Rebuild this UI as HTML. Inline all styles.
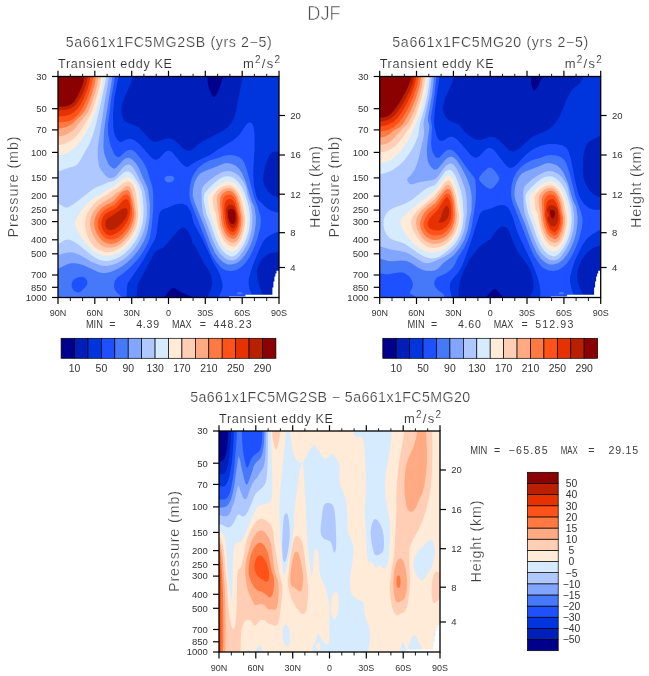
<!DOCTYPE html>
<html><head><meta charset="utf-8"><title>DJF</title>
<style>
html,body{margin:0;padding:0;background:#fff;}
svg{display:block;font-family:"Liberation Sans",sans-serif;}
text{stroke:#fff;stroke-width:0.22px;paint-order:fill stroke;}
text.s{stroke:none;}
</style></head><body>
<svg width="649" height="676" viewBox="0 0 649 676">
<defs><filter id="idf" x="0" y="0" width="649" height="676" filterUnits="userSpaceOnUse"><feOffset dx="0" dy="0"/></filter></defs>
<rect width="649" height="676" fill="#fff"/>
<rect x="58.0" y="76.5" width="221" height="221" fill="#00008b"/>
<path d="M279.0,297.5L193.5,297.5L182.0,292.8L175.5,288.5L173.5,287.9L172.0,288.3L169.5,290.3L164.3,297.5L58.0,297.5L58.0,76.5L207.1,76.5L207.8,83.0L209.0,88.0L211.7,94.5L213.0,96.3L214.0,97.0L215.0,96.7L216.0,95.6L219.5,88.0L221.6,82.0L222.8,76.5L279.0,76.5L279.0,297.5Z" fill="#001eb9" fill-rule="evenodd"/>
<path d="M263.0,297.5L207.5,297.5L212.2,285.0L212.2,280.5L211.0,275.2L208.6,270.0L203.4,262.5L199.9,255.0L194.6,245.5L192.6,243.5L191.2,238.0L188.7,232.5L186.0,228.9L183.5,227.3L181.0,228.1L177.5,231.0L167.3,243.5L163.8,247.0L156.5,251.0L154.0,253.7L138.2,283.5L136.9,289.5L136.6,297.5L58.0,297.5L58.0,76.5L132.9,76.5L131.1,83.0L124.4,97.5L121.9,105.5L121.5,111.5L122.3,116.0L123.9,120.0L125.5,121.7L127.0,122.5L134.0,124.9L138.2,127.0L140.5,129.0L149.5,138.7L153.0,141.3L155.0,141.9L156.5,141.8L166.0,138.4L170.5,138.4L172.5,139.2L175.0,140.8L184.0,149.0L186.5,150.5L188.5,150.9L190.5,150.5L193.0,149.0L198.6,144.0L202.5,141.4L223.5,130.6L227.5,127.5L230.5,124.1L233.5,119.0L235.6,113.0L242.7,76.5L279.0,76.5L279.0,151.9L275.0,151.4L273.0,151.9L271.0,153.3L269.5,155.4L267.0,161.0L264.9,167.5L263.4,175.0L263.2,179.0L263.3,181.5L264.4,185.5L267.8,191.0L270.5,193.7L272.5,195.1L275.5,196.5L279.0,197.3L279.0,251.9L271.5,252.9L268.5,254.1L265.5,255.9L263.0,257.9L261.0,260.4L258.0,266.5L256.9,271.5L257.3,277.5L259.0,284.5L263.1,296.5L263.0,297.5Z" fill="#0034dc" fill-rule="evenodd"/>
<path d="M252.5,297.5L218.5,297.5L221.7,290.5L222.7,286.5L222.2,282.0L220.2,275.5L217.7,270.0L213.3,262.5L201.5,237.5L193.9,223.5L192.9,220.5L191.7,214.5L190.0,210.3L188.0,207.3L186.0,205.3L183.5,203.9L181.0,203.5L176.0,204.3L167.0,208.0L163.0,209.3L161.5,210.2L160.0,212.0L158.8,216.0L156.6,233.5L155.1,239.0L141.5,263.1L128.1,282.5L127.3,285.0L126.9,288.5L126.6,297.5L58.0,297.5L58.0,76.5L118.5,76.5L114.5,97.4L113.0,114.0L113.3,127.5L114.0,132.0L115.2,136.0L117.5,139.7L119.0,141.2L120.5,142.0L122.0,141.8L126.0,139.6L129.0,138.8L132.0,139.2L135.0,140.6L140.5,145.2L150.5,156.8L152.5,158.5L154.5,159.6L156.5,159.7L158.0,159.1L160.0,157.5L165.2,152.0L167.5,150.8L169.5,150.8L171.5,151.8L173.5,153.5L179.8,161.5L183.0,164.8L186.0,166.8L188.0,167.0L191.2,164.5L196.1,161.5L210.0,155.0L218.5,149.2L233.6,140.0L239.3,135.0L246.0,125.1L247.5,123.4L248.5,122.7L250.0,122.4L251.0,122.7L252.0,123.5L253.5,126.5L254.5,133.5L254.6,148.5L253.4,167.0L253.3,176.0L254.0,185.5L256.0,194.7L257.2,198.0L258.4,200.0L260.8,202.0L266.5,208.1L272.0,211.1L276.0,212.2L279.0,212.4L279.0,231.8L274.5,233.0L270.5,234.9L266.5,237.7L263.8,240.5L261.5,244.8L254.1,262.0L250.8,271.0L248.8,279.0L248.6,284.0L249.5,288.7L252.5,297.5Z" fill="#1e50ff" fill-rule="evenodd"/>
<path d="M121.5,297.5L58.0,297.5L58.0,76.5L115.0,76.5L111.3,98.0L108.0,125.0L108.0,131.0L108.4,136.0L109.5,141.5L110.9,146.5L114.0,153.5L115.9,156.0L117.5,157.0L118.5,157.0L120.0,156.5L126.0,151.2L128.5,149.9L132.0,150.0L135.3,152.0L142.0,160.3L145.2,165.5L147.3,170.5L151.8,185.0L152.7,189.0L153.2,195.0L153.2,210.0L151.8,226.0L149.9,238.0L148.3,242.0L145.0,248.5L141.5,254.0L136.5,260.7L130.0,267.6L124.0,272.7L117.5,277.3L114.9,280.5L113.9,285.5L114.5,289.0L116.3,292.0L121.0,296.2L121.9,297.5L121.5,297.5ZM232.0,271.0L229.5,271.1L226.5,270.4L224.0,269.4L221.5,267.9L217.0,263.0L212.0,255.4L209.5,249.8L191.3,203.5L189.9,199.0L189.3,194.0L189.9,186.0L191.7,178.5L194.7,172.5L198.7,167.5L203.9,163.5L209.6,160.5L219.0,157.8L224.0,155.8L229.5,154.9L234.5,155.4L239.0,156.9L242.2,159.5L244.5,163.1L247.5,171.9L253.9,197.0L257.4,206.0L259.1,211.5L260.6,217.5L260.9,221.0L260.2,228.0L257.0,240.0L253.5,249.0L249.5,257.0L245.8,262.5L241.0,267.3L236.5,269.9L232.0,271.0ZM169.0,182.5L166.7,182.0L165.4,181.0L164.5,179.0L164.9,177.5L166.1,176.5L168.0,175.8L171.0,175.9L173.0,176.6L173.9,177.5L174.3,178.5L173.9,180.0L172.0,181.7L169.0,182.5ZM80.1,292.0L85.6,287.0L86.9,285.0L87.4,283.0L87.1,280.5L86.2,279.0L84.5,277.5L82.5,276.8L79.0,277.0L75.0,278.5L72.5,281.0L71.6,284.0L71.8,287.5L73.5,290.3L75.0,291.4L77.0,292.2L78.5,292.4L80.1,292.0ZM240.5,294.5L237.5,294.2L236.9,293.5L237.0,293.0L239.0,292.0L241.0,292.0L242.1,292.5L242.5,293.6L242.0,294.1L240.5,294.5Z" fill="#4678fa" fill-rule="evenodd"/>
<path d="M105.5,273.0L102.0,273.1L98.0,272.1L83.0,265.1L76.0,263.3L71.5,263.2L68.5,263.8L58.0,268.7L58.0,76.5L112.4,76.5L105.0,123.5L103.9,133.0L103.4,146.5L103.9,151.5L104.9,155.5L108.5,164.2L110.5,166.6L113.5,168.7L115.0,168.6L116.5,167.6L123.0,160.3L125.5,158.4L127.0,157.9L129.0,158.0L130.5,158.5L132.5,159.7L135.7,163.0L138.6,167.5L143.5,179.0L146.5,185.0L148.2,190.0L149.9,204.0L149.7,217.0L147.7,230.0L146.0,236.1L143.9,241.0L139.9,248.0L136.5,252.7L132.0,257.9L126.5,263.0L121.0,267.0L116.0,269.7L110.5,272.0L105.5,273.0ZM232.0,264.6L227.5,264.5L223.5,262.6L219.0,258.6L214.8,252.5L210.2,242.5L203.5,224.4L194.0,200.9L192.7,195.0L193.0,189.0L194.4,182.5L197.0,177.4L200.0,173.6L205.0,170.9L218.0,166.1L223.0,163.8L226.0,163.1L230.5,163.5L235.5,165.6L239.0,168.7L242.0,173.1L246.2,183.0L251.0,199.5L254.4,207.0L255.9,216.5L255.7,224.0L254.3,233.5L252.1,241.0L249.2,248.0L245.1,255.0L240.9,260.0L237.0,262.9L232.0,264.6Z" fill="#82a5ff" fill-rule="evenodd"/>
<path d="M107.0,266.0L102.0,265.7L95.5,263.6L91.0,261.4L80.0,255.0L74.0,252.8L71.0,252.3L68.0,252.5L64.0,253.3L58.0,255.2L58.0,76.5L109.2,76.5L104.5,103.0L97.9,146.5L97.6,156.5L99.0,166.0L101.4,170.5L105.9,176.0L108.5,177.9L111.0,178.3L113.5,177.6L116.0,175.9L122.5,168.0L125.0,165.7L128.0,164.6L130.5,165.1L132.7,167.0L135.3,171.0L142.7,185.5L144.7,191.0L146.7,204.0L146.8,215.5L146.1,221.5L144.7,228.0L142.9,233.5L140.7,238.5L137.6,244.0L134.0,249.2L130.0,253.8L125.5,257.9L121.0,261.1L117.0,263.3L112.0,265.1L107.0,266.0ZM232.5,260.5L228.0,259.9L224.0,257.6L219.6,253.0L216.0,247.3L212.2,238.5L203.1,214.0L202.4,210.0L201.7,202.5L201.5,192.0L202.1,188.5L203.2,186.0L208.4,181.0L216.0,175.4L222.5,172.1L227.0,171.1L231.5,171.5L236.0,173.5L240.0,177.1L244.0,182.6L246.0,187.1L247.6,195.0L250.9,205.0L252.4,215.0L252.4,222.0L251.7,229.0L250.1,236.0L247.7,243.0L243.9,250.0L239.0,257.0L236.0,259.6L232.5,260.5Z" fill="#afc8ff" fill-rule="evenodd"/>
<path d="M59.5,171.1L58.0,171.5L58.0,76.5L106.4,76.5L100.1,107.0L96.1,124.0L92.6,136.0L89.0,144.7L80.1,160.5L77.0,164.7L74.5,166.2L69.5,167.5L59.5,171.1ZM110.5,260.6L107.5,260.9L103.5,260.7L100.0,259.9L96.5,258.5L91.9,255.5L76.0,242.8L70.5,239.9L67.5,239.6L64.5,240.2L58.0,244.2L58.0,203.3L64.5,207.3L66.5,207.6L69.0,207.0L75.5,202.7L92.5,189.4L95.9,187.5L103.5,184.5L107.5,182.5L113.5,180.9L117.0,178.6L123.5,172.7L126.0,171.6L128.5,171.6L131.0,172.7L133.5,175.8L138.8,184.0L141.5,191.0L142.8,198.5L143.6,209.0L143.5,215.5L142.6,223.0L140.8,229.5L138.0,236.4L135.0,241.8L131.0,247.0L126.0,252.2L120.5,256.5L115.5,259.1L110.5,260.6ZM234.0,256.1L232.5,256.5L230.5,256.3L226.5,254.4L222.3,250.5L218.6,245.0L215.2,237.5L210.4,223.5L206.4,213.5L203.9,201.0L203.7,197.5L204.1,194.5L205.5,192.3L209.0,188.1L214.0,183.2L218.5,179.6L223.0,177.1L226.5,176.3L230.5,176.6L234.5,178.4L238.3,182.0L241.9,187.0L244.0,191.2L246.0,196.9L248.7,206.5L249.8,213.5L250.0,219.5L249.5,226.0L248.4,232.5L246.5,238.5L244.3,243.5L241.5,248.5L237.0,253.9L234.0,256.1Z" fill="#d7ebff" fill-rule="evenodd"/>
<path d="M61.0,155.0L58.0,155.3L58.0,76.5L103.8,76.5L102.4,86.5L97.5,105.0L94.1,115.5L87.5,130.1L81.0,140.5L75.0,147.3L71.5,150.1L68.0,152.4L65.0,153.8L61.0,155.0ZM111.0,255.6L105.5,255.9L101.0,254.9L96.0,252.3L91.0,248.4L84.9,242.0L80.2,235.5L75.4,226.5L74.8,224.0L75.0,222.5L76.7,218.0L80.4,212.0L85.9,205.0L90.1,201.0L94.0,198.2L101.6,194.0L107.6,189.5L114.4,186.5L123.5,178.4L126.0,177.4L128.5,177.4L131.5,179.0L134.3,182.0L136.5,186.0L138.2,191.0L139.2,197.0L140.7,212.5L140.5,217.5L139.6,223.0L137.9,229.0L135.5,234.5L132.5,239.5L128.0,245.1L124.5,248.6L120.0,251.8L115.5,254.1L111.0,255.6ZM232.0,251.5L229.0,250.9L225.5,248.5L222.5,245.0L220.0,240.5L217.7,235.0L213.3,221.5L210.0,212.7L208.5,205.5L207.8,200.0L207.9,197.0L208.7,195.0L215.5,187.9L218.5,185.4L222.0,183.3L225.5,181.8L228.0,181.5L231.5,182.0L234.5,183.6L237.5,186.5L240.0,190.2L242.6,195.5L245.6,204.5L246.9,210.5L247.5,216.0L247.5,222.0L246.9,228.0L245.6,233.5L243.7,239.0L241.0,244.1L238.0,248.4L235.0,250.7L232.0,251.5ZM58.0,228.8L58.0,218.1L59.4,220.0L59.9,223.5L59.4,227.0L58.0,228.8Z" fill="#ffebd7" fill-rule="evenodd"/>
<path d="M62.0,144.5L58.0,144.9L58.0,76.5L101.1,76.5L100.2,84.0L97.7,94.0L92.1,111.0L90.0,115.6L81.1,130.0L76.4,136.0L73.1,139.0L69.5,141.6L65.5,143.6L62.0,144.5ZM109.5,252.0L104.0,251.7L99.1,250.0L94.6,247.0L91.0,243.0L87.7,236.5L85.5,229.5L84.8,223.5L85.6,217.5L87.2,213.5L90.2,208.5L93.9,204.0L97.7,200.5L102.7,197.0L109.5,193.1L112.5,190.5L116.9,188.0L123.5,182.9L126.5,181.7L129.5,181.8L131.5,183.0L133.5,186.0L135.0,190.2L136.1,195.5L138.3,214.0L137.7,220.0L136.5,225.9L135.0,230.0L132.5,234.7L128.7,240.0L125.0,244.2L121.5,247.1L117.5,249.6L113.5,251.2L109.5,252.0ZM234.5,246.5L233.0,246.8L231.5,246.5L227.5,244.5L224.9,242.0L222.1,237.5L218.7,228.5L217.2,222.0L216.0,213.5L213.9,209.5L213.0,204.0L212.9,197.5L213.8,195.0L215.1,193.0L217.7,190.0L220.8,187.5L224.0,185.9L227.0,185.2L230.0,185.3L233.0,186.5L236.0,189.0L238.1,192.0L240.4,197.0L242.2,202.5L245.0,217.0L245.2,221.0L244.7,226.5L242.5,236.0L241.0,239.5L239.0,242.8L237.0,245.0L234.5,246.5Z" fill="#ffceb4" fill-rule="evenodd"/>
<path d="M62.0,136.0L58.0,136.4L58.0,76.5L98.4,76.5L97.4,84.0L95.2,92.5L91.5,103.6L87.9,112.5L74.0,129.5L68.5,133.6L65.5,135.1L62.0,136.0ZM112.5,247.5L108.0,247.8L103.5,246.7L99.9,244.5L96.2,240.5L92.7,234.5L90.5,228.5L89.9,224.0L90.6,218.5L91.8,215.0L94.0,211.0L96.2,208.0L99.0,205.2L103.5,201.9L112.0,197.1L116.5,192.7L120.5,191.0L125.5,186.6L127.0,185.9L128.0,185.9L129.7,187.0L131.1,189.5L132.7,194.0L134.1,199.5L136.1,213.0L135.9,217.5L134.9,223.0L133.4,227.5L131.7,231.0L129.2,235.0L126.0,239.0L122.5,242.4L119.0,244.9L116.0,246.5L112.5,247.5ZM235.0,242.5L233.5,242.9L232.0,242.8L228.7,241.5L226.0,239.0L223.5,235.1L221.6,230.5L220.2,225.5L219.3,220.0L218.7,213.0L217.5,208.0L216.8,199.5L217.1,197.0L217.8,195.0L219.5,192.5L221.7,190.5L224.5,188.8L227.0,188.0L230.0,188.1L232.5,189.1L234.7,191.0L236.9,194.0L238.7,198.0L240.1,202.5L242.9,216.5L243.2,220.0L242.9,224.5L241.2,233.0L238.5,239.1L237.0,241.0L235.0,242.5Z" fill="#ffaa82" fill-rule="evenodd"/>
<path d="M60.5,128.5L58.0,128.7L58.0,76.5L95.8,76.5L94.8,83.5L92.5,91.9L89.0,101.8L84.7,111.0L81.4,115.0L72.0,123.9L66.5,127.0L60.5,128.5ZM114.0,243.6L110.0,243.9L106.5,243.1L103.0,241.2L99.8,238.0L96.8,233.5L94.8,228.5L94.2,224.0L94.7,219.0L95.8,216.0L97.5,212.7L101.4,208.0L105.5,205.2L111.0,202.7L113.5,201.0L116.0,198.6L119.7,194.0L122.5,191.6L125.5,190.2L127.5,189.9L129.0,191.0L130.0,192.8L132.6,202.0L134.3,213.0L134.0,217.0L133.2,221.0L130.3,228.5L125.0,236.0L122.5,238.6L119.5,241.0L116.5,242.8L114.0,243.6ZM233.5,239.1L231.5,238.7L229.0,237.2L227.0,235.4L225.1,233.0L222.7,227.0L221.2,219.5L220.0,203.5L220.2,198.0L221.2,195.5L223.0,193.2L225.5,191.6L228.0,190.8L230.5,191.0L232.5,192.0L234.5,193.9L236.4,197.0L238.6,203.5L241.4,217.5L241.1,224.5L239.5,231.5L236.9,236.5L235.0,238.4L233.5,239.1Z" fill="#ff7a42" fill-rule="evenodd"/>
<path d="M64.5,122.0L58.0,122.2L58.0,76.5L93.1,76.5L92.1,83.5L89.5,92.1L85.5,102.0L81.4,110.0L77.7,115.0L73.5,118.8L69.5,121.0L64.5,122.0ZM112.5,239.6L109.0,239.6L106.0,238.5L103.0,236.2L100.6,233.0L98.7,229.5L97.8,226.0L97.9,222.5L98.7,218.5L100.9,214.0L104.0,210.5L107.0,208.5L114.5,204.8L123.5,195.3L125.5,194.4L127.5,194.4L129.0,195.7L130.0,198.3L132.0,209.0L132.0,215.5L130.6,222.0L128.0,227.5L123.0,233.7L118.0,237.6L115.5,238.8L112.5,239.6ZM233.0,235.6L231.5,235.3L229.5,234.0L226.5,230.6L224.4,225.5L223.1,219.0L222.3,206.0L222.7,200.0L223.5,197.8L224.9,196.0L226.5,194.9L228.5,194.4L230.5,194.6L232.5,195.8L234.0,197.5L235.5,200.1L237.0,204.5L239.8,218.0L239.6,223.5L238.0,229.7L235.9,233.5L234.5,234.9L233.0,235.6Z" fill="#ff5218" fill-rule="evenodd"/>
<path d="M64.5,116.0L58.0,116.4L58.0,76.5L90.3,76.5L89.6,82.0L87.4,89.5L83.9,98.0L80.0,105.4L77.0,109.3L73.5,112.5L69.5,114.7L64.5,116.0ZM233.0,232.1L230.5,231.2L228.0,228.4L226.0,223.5L225.0,218.0L224.3,209.5L224.7,204.0L225.3,202.0L226.5,200.3L228.0,199.2L229.5,198.9L231.0,199.1L232.5,200.0L234.5,203.0L236.9,210.5L238.5,218.5L238.2,223.0L237.0,227.5L235.0,230.8L233.0,232.1ZM112.5,235.1L110.0,235.4L107.5,234.8L105.5,233.5L103.5,231.0L102.1,228.0L101.4,225.0L101.5,221.5L102.5,218.0L104.0,215.5L106.5,213.0L115.0,208.7L117.6,206.5L123.0,200.5L125.0,199.2L127.0,199.1L128.5,200.4L129.3,202.0L130.4,207.5L130.0,213.5L128.3,219.5L125.5,224.6L121.5,229.4L117.0,233.1L112.5,235.1Z" fill="#e63200" fill-rule="evenodd"/>
<path d="M65.5,110.0L58.0,110.3L58.0,76.5L87.3,76.5L87.6,77.5L87.3,80.0L85.5,86.2L82.4,94.0L78.9,100.5L76.0,104.4L73.0,107.1L69.5,108.9L65.5,110.0ZM234.0,228.1L233.0,228.4L231.8,228.0L229.6,226.0L227.8,222.5L226.9,218.5L226.1,209.0L227.5,205.9L228.5,205.0L230.0,204.5L232.5,205.0L234.5,207.1L236.0,211.0L236.8,215.0L237.3,219.0L236.9,222.5L235.5,226.5L234.0,228.1ZM112.0,230.0L110.0,230.2L108.5,229.8L107.0,228.7L106.0,227.4L105.4,225.5L105.3,223.5L105.7,221.0L106.5,219.5L108.5,217.7L114.0,214.6L121.0,209.4L124.5,208.1L126.5,208.4L127.5,210.0L127.6,213.0L126.8,216.0L125.0,219.3L122.5,222.6L118.5,226.5L115.0,228.9L112.0,230.0Z" fill="#b92000" fill-rule="evenodd"/>
<path d="M65.0,106.5L58.0,106.7L58.0,76.5L83.8,76.5L84.1,77.5L83.7,80.5L82.3,85.5L79.4,92.5L75.9,99.0L73.7,102.0L71.5,104.1L68.5,105.7L65.0,106.5ZM233.0,224.1L231.5,223.8L230.0,222.3L229.0,219.9L228.2,216.5L228.0,211.0L229.0,209.4L230.5,208.8L232.0,208.9L233.5,209.6L234.9,211.5L235.5,213.7L235.7,217.5L235.4,221.0L234.5,223.2L233.0,224.1Z" fill="#8b0000" fill-rule="evenodd"/>
<polygon points="229.0,298.2 229.0,296.5 245.4,296.5 245.4,294.7 272.4,294.7 272.4,287.5 273.4,287.5 273.4,281.5 274.4,281.5 274.4,276.5 275.4,276.5 275.4,273.5 276.5,273.5 276.5,270.8 279.7,270.8 279.7,298.2" fill="#fff"/>
<rect x="379.7" y="76.5" width="221" height="221" fill="#00008b"/>
<path d="M600.7,297.5L503.6,297.5L497.2,290.6L495.7,289.5L494.7,289.2L493.2,289.6L491.7,290.8L487.9,295.0L486.4,297.5L379.7,297.5L379.7,76.5L531.0,76.5L531.1,82.0L531.6,85.5L532.9,89.0L534.2,90.4L535.2,90.0L537.2,87.4L541.4,79.0L542.1,76.5L600.7,76.5L600.7,297.5Z" fill="#001eb9" fill-rule="evenodd"/>
<path d="M584.2,297.5L529.3,297.5L532.3,292.0L533.5,287.0L533.0,279.5L531.2,272.8L529.2,268.3L526.7,264.0L519.1,253.5L516.6,249.5L513.8,243.5L508.5,230.0L506.2,227.4L503.2,226.4L501.2,226.8L499.1,228.0L495.4,232.0L490.7,239.0L481.7,244.9L478.7,247.5L474.2,252.9L469.7,259.5L464.1,270.0L460.1,280.5L458.6,288.5L459.0,297.5L379.7,297.5L379.7,76.5L453.9,76.5L451.8,83.5L445.4,98.0L443.3,105.0L442.8,109.0L443.3,112.0L445.7,116.8L448.6,120.0L450.1,121.0L455.7,123.0L459.7,125.3L461.2,126.9L463.2,130.1L465.2,132.2L470.6,136.5L474.2,138.8L477.2,139.9L479.7,140.1L482.2,139.5L489.7,136.8L494.2,137.1L498.7,139.7L509.2,150.2L511.2,151.3L512.7,151.6L515.7,150.6L519.7,148.0L531.2,137.4L533.7,135.9L542.2,132.5L547.7,129.8L550.4,128.0L554.9,123.5L557.7,120.0L560.8,114.0L566.1,100.5L569.6,93.5L572.7,89.2L575.0,87.0L578.7,84.4L580.3,82.5L582.2,79.0L583.1,76.5L600.7,76.5L600.7,135.8L595.7,137.9L590.2,141.0L588.3,142.5L586.4,145.0L584.7,149.5L583.5,154.5L583.0,158.5L582.7,168.0L583.0,174.5L583.6,177.5L585.1,182.5L587.1,186.5L590.2,191.2L593.2,194.0L596.3,196.0L600.7,197.2L600.7,245.3L593.7,247.7L590.1,250.0L587.7,252.2L584.7,255.5L581.7,259.9L578.7,267.0L577.1,274.0L577.1,277.5L577.5,280.5L579.2,286.6L581.2,291.0L584.0,295.5L584.6,297.5L584.2,297.5Z" fill="#0034dc" fill-rule="evenodd"/>
<path d="M574.2,297.5L540.2,297.5L540.4,291.5L539.4,284.0L537.3,276.5L533.8,267.0L519.1,236.0L516.6,229.5L512.2,215.8L509.7,210.2L508.2,207.9L506.2,206.2L504.2,205.3L501.7,204.9L498.2,205.4L489.2,209.0L483.7,210.2L481.7,211.6L479.7,214.3L470.4,243.5L462.2,265.5L459.2,271.2L451.5,280.5L450.2,283.0L449.7,287.5L450.6,292.5L452.0,297.5L379.7,297.5L379.7,76.5L439.6,76.5L435.2,107.3L434.1,120.0L434.3,125.5L436.1,134.0L437.1,137.0L438.7,139.7L439.7,140.5L441.2,140.8L443.7,140.4L447.7,137.8L450.2,136.8L452.2,136.8L454.2,137.6L456.7,139.3L460.4,143.0L470.7,155.0L474.2,157.5L476.2,157.7L477.7,157.3L480.2,155.2L486.1,149.0L488.2,148.0L490.7,148.0L492.7,148.9L494.7,150.8L503.2,162.1L506.7,166.0L508.7,167.6L510.7,168.1L513.2,167.3L516.2,165.0L525.2,155.3L529.7,151.4L534.2,148.7L540.7,145.7L548.2,143.9L556.2,143.9L562.2,145.2L565.2,146.9L566.7,148.3L568.9,152.0L570.6,157.5L575.0,180.0L578.2,193.3L580.2,198.3L584.2,203.9L587.2,206.8L589.2,208.2L593.7,209.8L600.7,209.7L600.7,229.8L597.7,230.9L592.1,234.5L588.7,237.1L585.2,240.9L582.2,245.4L579.7,250.3L574.8,261.0L572.5,267.5L570.1,277.0L570.0,281.5L571.1,287.5L574.2,297.5Z" fill="#1e50ff" fill-rule="evenodd"/>
<path d="M444.7,297.5L416.5,297.5L415.4,296.5L410.7,293.9L409.9,293.0L410.0,292.0L412.4,287.5L413.0,284.0L412.3,281.5L410.8,278.5L409.2,276.5L406.7,274.4L404.2,273.0L401.2,272.3L398.2,272.4L388.7,274.3L385.7,274.2L379.7,273.3L379.7,76.5L436.4,76.5L434.5,94.5L430.8,118.0L432.0,127.5L431.1,143.5L431.7,148.5L432.7,152.2L435.2,156.8L436.2,157.6L437.7,158.1L439.7,157.2L444.5,152.0L447.2,150.1L450.2,149.5L453.2,150.8L455.7,152.9L459.2,156.9L468.2,170.0L473.9,177.0L475.4,180.0L476.0,191.5L475.5,202.5L472.0,225.5L470.1,233.5L467.4,241.0L464.2,247.7L457.6,258.0L454.8,264.5L452.3,268.0L449.3,271.0L445.8,273.5L437.6,277.0L435.6,279.0L434.4,281.5L434.1,284.0L435.2,287.0L437.9,290.0L443.2,293.7L444.3,295.5L444.7,297.5ZM553.7,271.0L548.7,270.6L543.7,268.3L541.6,266.5L538.7,263.1L533.7,255.5L531.0,249.5L512.9,203.5L511.6,199.0L511.0,194.0L511.5,186.0L513.3,178.5L516.4,172.5L520.7,167.2L525.7,163.4L531.7,160.3L540.7,157.8L545.7,155.8L551.2,154.9L556.2,155.4L560.7,156.9L563.9,159.5L566.2,163.1L569.2,172.0L575.6,197.0L580.8,211.5L582.3,217.5L582.6,221.0L581.9,228.0L578.7,240.0L575.2,249.0L571.2,257.0L567.2,262.9L562.7,267.3L558.2,269.9L553.7,271.0ZM491.7,188.6L489.2,188.7L485.7,186.7L481.6,183.0L479.6,180.5L479.0,179.0L479.7,176.5L483.0,172.5L486.2,169.5L488.2,168.1L489.7,167.6L491.7,168.1L494.4,170.5L498.2,175.5L499.3,178.0L499.0,180.0L497.2,183.1L493.7,187.2L491.7,188.6ZM562.2,294.5L559.2,294.2L558.6,293.5L558.7,293.0L560.7,292.0L562.7,292.0L563.8,292.5L564.2,293.6L563.7,294.1L562.2,294.5Z" fill="#4678fa" fill-rule="evenodd"/>
<path d="M431.7,271.0L425.7,270.7L421.7,269.6L418.7,268.1L410.7,262.7L406.2,260.9L400.7,260.4L393.2,261.3L389.7,261.2L386.2,260.5L379.7,258.5L379.7,76.5L434.1,76.5L432.2,93.7L427.9,118.0L428.0,121.0L429.2,125.0L429.4,127.5L427.5,141.5L426.9,148.5L427.0,156.0L428.0,161.5L429.2,164.3L431.0,167.0L433.7,169.6L435.2,169.8L437.2,169.0L438.7,167.8L444.6,160.5L447.2,158.0L450.2,156.7L451.7,156.7L453.2,157.3L455.2,158.8L457.2,161.0L461.7,168.0L467.0,178.5L469.9,186.5L471.1,192.0L471.7,197.0L471.6,210.0L467.5,230.5L464.2,240.1L459.7,248.1L453.7,255.2L443.4,263.0L437.7,269.0L434.7,270.6L431.7,271.0ZM553.7,264.6L549.2,264.5L545.2,262.5L540.7,258.6L536.3,252.0L531.7,242.0L525.2,224.4L515.7,200.9L514.4,195.0L514.7,189.0L516.1,182.5L518.7,177.4L521.7,173.6L526.7,170.9L539.7,166.1L544.7,163.8L547.7,163.1L552.2,163.5L557.2,165.6L560.7,168.7L563.7,173.1L567.9,183.0L572.7,199.5L576.1,207.0L577.6,216.5L577.4,224.0L576.0,233.5L573.8,241.0L570.9,248.0L566.8,255.0L562.6,260.0L558.7,262.9L553.7,264.6Z" fill="#82a5ff" fill-rule="evenodd"/>
<path d="M429.2,263.1L426.2,263.2L423.2,262.4L418.2,259.6L410.7,254.7L405.7,252.3L402.2,251.4L390.7,249.6L379.7,246.2L379.7,76.5L431.8,76.5L430.8,86.5L429.0,98.5L423.5,123.0L424.0,132.0L423.8,136.0L419.2,156.5L416.8,164.5L414.7,169.4L411.7,174.2L407.4,178.5L407.3,180.5L409.2,183.5L411.2,184.5L420.2,181.9L431.2,180.3L434.2,179.4L435.9,178.5L437.7,176.8L443.7,168.2L446.2,165.4L448.7,163.7L450.7,163.4L452.2,163.8L453.7,164.8L456.8,169.0L461.3,178.5L464.9,188.5L466.0,193.5L466.8,199.5L467.0,212.0L464.9,227.5L463.2,233.5L461.0,239.0L458.8,243.0L456.0,247.0L452.4,251.0L449.2,253.7L445.2,256.3L441.2,258.3L432.2,262.2L429.2,263.1ZM554.2,260.5L549.7,259.9L545.7,257.6L541.3,253.0L537.7,247.3L533.9,238.5L524.8,214.0L524.1,210.0L523.4,202.5L523.2,192.0L523.8,188.5L524.9,186.0L531.9,179.5L537.7,175.4L544.2,172.1L548.7,171.1L553.2,171.5L557.7,173.5L561.7,177.1L565.7,182.6L567.7,187.1L569.3,195.0L572.6,205.0L574.1,215.0L574.1,222.0L573.4,229.0L571.8,236.0L569.4,243.0L565.6,250.0L560.7,257.0L557.7,259.6L554.2,260.5Z" fill="#afc8ff" fill-rule="evenodd"/>
<path d="M381.2,174.1L379.7,174.2L379.7,76.5L429.9,76.5L428.7,87.1L426.2,101.0L423.7,111.0L419.9,123.5L418.2,135.7L414.7,144.2L411.3,150.5L407.2,156.6L404.0,160.5L398.9,165.5L394.2,169.0L390.2,171.3L385.7,173.1L381.2,174.1ZM435.7,258.1L430.7,258.4L425.2,256.9L419.6,254.0L404.7,243.8L400.2,241.9L393.2,240.0L389.7,238.0L386.6,234.5L384.6,230.5L383.5,225.5L383.6,220.5L385.1,215.5L387.1,212.5L389.2,210.4L393.2,207.9L403.2,204.6L408.2,202.1L412.7,199.2L426.2,188.5L429.2,186.9L432.7,186.0L434.7,185.0L437.7,182.1L445.2,171.6L447.7,170.0L449.7,169.7L451.2,170.3L452.5,171.5L455.2,175.5L458.4,183.0L461.2,192.0L462.6,199.5L463.6,215.0L463.0,223.0L461.8,229.0L460.0,234.5L457.6,239.5L454.7,243.9L450.9,248.0L444.8,253.0L439.6,256.5L435.7,258.1ZM555.7,256.1L554.2,256.5L552.2,256.3L548.2,254.4L544.0,250.5L540.3,245.0L536.9,237.5L532.1,223.5L528.1,213.5L525.6,201.0L525.4,197.5L525.8,194.5L527.2,192.3L530.7,188.1L535.7,183.2L540.2,179.6L544.7,177.1L548.2,176.3L552.2,176.6L556.2,178.4L560.0,182.0L563.6,187.0L565.7,191.2L567.7,196.9L570.4,206.5L571.5,213.5L571.7,219.5L571.2,226.0L570.1,232.5L568.2,238.5L566.0,243.5L563.2,248.5L558.7,253.9L555.7,256.1Z" fill="#d7ebff" fill-rule="evenodd"/>
<path d="M383.7,162.6L379.7,162.9L379.7,76.5L427.6,76.5L425.6,91.5L422.3,105.5L417.5,119.5L410.2,136.7L403.7,147.2L397.2,154.8L390.7,159.9L387.2,161.6L383.7,162.6ZM434.7,252.5L430.2,252.6L424.7,251.1L419.9,248.5L414.1,244.0L408.1,237.5L403.1,230.0L400.6,224.0L400.5,221.0L401.7,218.4L405.0,215.0L417.7,204.3L435.2,190.5L438.2,187.1L444.7,177.7L447.2,175.8L449.2,175.4L451.5,177.0L453.6,180.5L456.4,188.0L458.5,195.5L459.8,203.0L461.0,215.0L460.3,224.5L458.9,230.0L457.1,234.5L454.4,239.5L451.7,243.1L448.2,246.3L443.7,249.3L439.2,251.3L434.7,252.5ZM553.7,251.5L550.7,250.9L547.2,248.5L544.2,245.0L541.7,240.5L539.4,235.0L535.0,221.5L531.7,212.7L530.2,205.5L529.5,200.0L529.6,197.0L530.4,195.0L537.2,187.9L540.2,185.4L543.7,183.3L547.2,181.8L549.7,181.5L553.2,182.0L556.2,183.6L559.2,186.5L561.7,190.2L564.3,195.5L567.3,204.5L568.6,210.5L569.2,216.0L569.2,222.0L568.6,228.0L567.3,233.5L565.4,239.0L562.7,244.1L559.7,248.4L556.7,250.7L553.7,251.5Z" fill="#ffebd7" fill-rule="evenodd"/>
<path d="M383.2,152.0L379.7,152.4L379.7,76.5L425.5,76.5L424.0,87.5L421.1,100.0L416.7,113.1L411.7,124.4L401.3,139.5L396.7,144.7L393.2,147.6L389.7,149.8L386.2,151.3L383.2,152.0ZM437.7,247.5L433.2,248.0L429.2,247.3L425.2,245.6L421.8,243.0L418.1,238.5L412.8,230.0L411.3,225.5L411.1,220.5L412.9,216.0L416.4,211.5L434.2,195.9L437.7,191.8L444.7,182.3L446.7,180.9L448.7,180.4L450.6,181.5L452.2,184.2L454.3,189.5L456.2,196.5L459.0,215.0L458.5,222.5L457.5,227.0L455.9,231.5L453.7,235.8L451.2,239.3L448.2,242.3L445.2,244.4L441.2,246.4L437.7,247.5ZM556.2,246.5L554.7,246.8L553.2,246.5L549.2,244.5L546.6,242.0L543.8,237.5L540.4,228.5L538.9,222.0L537.7,213.5L535.6,209.5L534.7,204.0L534.6,197.5L535.5,195.0L536.8,193.0L539.4,190.0L542.5,187.5L545.7,185.9L548.7,185.2L551.7,185.3L554.7,186.5L557.7,189.0L559.8,192.0L562.1,197.0L563.9,202.5L566.7,217.0L566.9,221.0L566.4,226.5L564.2,236.0L562.7,239.5L560.7,242.8L558.7,245.0L556.2,246.5Z" fill="#ffceb4" fill-rule="evenodd"/>
<path d="M383.7,144.5L379.7,144.9L379.7,76.5L423.4,76.5L421.7,87.5L418.7,98.8L413.8,112.0L409.0,121.5L406.2,125.3L399.8,131.5L392.7,139.6L388.2,142.9L383.7,144.5ZM438.2,243.6L433.7,243.9L429.7,243.1L425.7,241.1L422.7,238.5L419.2,233.5L417.1,229.0L416.0,224.0L416.3,219.5L417.7,215.5L421.5,210.5L427.0,205.5L434.7,199.6L444.7,186.5L446.7,185.0L448.7,184.7L450.2,186.0L452.0,189.5L453.5,194.0L455.0,200.0L456.9,215.0L456.3,222.5L454.0,230.0L452.5,233.0L450.2,236.2L447.7,238.7L444.7,240.9L441.2,242.7L438.2,243.6ZM556.7,242.5L555.2,242.9L553.7,242.8L550.4,241.5L547.7,239.0L545.2,235.1L543.3,230.5L541.9,225.5L541.0,220.0L540.3,212.5L539.2,208.0L538.5,199.5L538.8,197.0L539.5,195.0L541.2,192.5L543.4,190.5L546.2,188.8L548.7,188.0L551.7,188.1L554.2,189.1L556.4,191.0L558.6,194.0L560.4,198.0L561.8,202.5L564.6,216.5L564.9,220.0L564.6,224.5L562.9,233.0L560.2,239.1L558.7,241.0L556.7,242.5Z" fill="#ffaa82" fill-rule="evenodd"/>
<path d="M380.7,137.5L379.7,137.6L379.7,76.5L421.1,76.5L419.3,87.0L416.0,98.0L410.7,110.7L404.9,121.0L402.1,125.0L399.2,127.6L393.9,130.5L389.7,134.0L387.2,135.6L384.2,136.9L380.7,137.5ZM438.7,239.6L434.7,239.9L431.2,239.4L428.0,238.0L425.2,235.9L422.5,232.5L420.7,229.0L420.0,225.5L420.2,222.0L422.0,216.5L425.2,211.5L428.2,208.5L435.2,203.2L444.7,190.6L446.7,189.1L448.2,188.9L449.7,189.8L451.2,192.1L453.7,200.5L455.1,213.0L454.5,221.0L452.3,228.0L448.7,233.5L444.2,237.4L438.7,239.6ZM555.2,239.1L553.7,239.0L551.2,237.5L548.8,235.5L547.1,233.5L544.6,227.5L542.9,220.0L541.7,203.5L541.9,198.0L542.9,195.5L544.7,193.2L547.2,191.6L549.7,190.8L552.2,191.0L554.2,192.0L556.2,193.9L558.1,197.0L560.3,203.5L563.1,217.5L562.8,224.5L561.2,231.5L558.6,236.5L556.7,238.4L555.2,239.1Z" fill="#ff7a42" fill-rule="evenodd"/>
<path d="M383.2,131.0L379.7,131.3L379.7,76.5L418.8,76.5L417.2,85.4L413.9,95.5L408.7,107.2L403.0,117.0L398.7,122.7L393.9,127.0L388.7,129.9L383.2,131.0ZM436.7,235.5L433.7,235.4L431.2,234.7L428.8,233.5L426.7,231.8L425.0,229.5L423.8,227.0L423.4,224.5L423.8,222.0L425.4,218.0L428.2,213.8L430.2,211.8L435.7,207.3L444.7,195.1L446.7,193.5L448.2,193.4L449.7,194.7L450.7,196.6L452.6,204.0L453.3,213.5L453.0,218.0L452.3,221.5L450.0,227.0L446.2,231.6L441.7,234.4L436.7,235.5ZM554.7,235.6L553.2,235.3L550.7,233.6L547.9,230.0L545.9,224.5L544.3,216.0L544.0,204.5L544.5,199.5L545.4,197.5L546.7,195.9L548.2,194.9L550.2,194.4L552.2,194.6L554.2,195.8L555.7,197.5L557.2,200.1L558.7,204.5L561.5,218.0L561.3,223.5L559.8,229.5L557.6,233.5L556.2,234.9L554.7,235.6Z" fill="#ff5218" fill-rule="evenodd"/>
<path d="M383.7,126.0L379.7,126.4L379.7,76.5L416.5,76.5L414.9,84.5L411.9,93.0L407.2,102.8L401.3,113.0L397.2,118.4L393.2,122.1L388.7,124.6L383.7,126.0ZM439.2,230.5L434.7,230.6L430.5,229.0L428.9,227.5L428.0,226.0L427.6,224.5L427.7,222.5L428.7,220.0L430.0,218.0L438.0,209.5L444.7,199.1L446.2,197.6L447.2,197.3L448.2,197.8L449.2,199.4L450.8,204.5L451.5,213.0L450.9,218.5L449.2,222.8L446.7,226.2L443.2,228.9L439.2,230.5ZM554.7,232.1L552.2,231.2L549.7,228.4L547.9,224.5L545.2,215.5L545.2,213.0L546.7,202.8L548.7,199.9L551.2,198.9L552.7,199.1L554.2,200.0L556.2,203.1L558.7,210.5L560.1,218.0L559.9,222.5L558.7,227.3L556.7,230.8L554.7,232.1Z" fill="#e63200" fill-rule="evenodd"/>
<path d="M382.2,121.5L379.7,121.8L379.7,76.5L414.2,76.5L412.7,83.4L409.7,91.1L404.7,100.6L398.6,110.5L394.9,115.0L390.8,118.5L386.7,120.6L382.2,121.5ZM554.7,226.3L552.2,226.3L550.2,224.9L548.2,221.8L547.3,219.0L547.6,217.5L548.8,216.0L549.0,214.0L548.2,212.0L546.7,210.8L546.7,209.4L548.2,206.7L549.7,205.7L551.2,205.3L553.7,205.5L555.7,206.7L557.2,208.8L557.9,211.0L558.4,215.5L558.0,220.5L556.7,224.2L554.7,226.3ZM442.2,222.6L439.7,222.8L438.3,222.0L440.6,218.5L442.4,212.0L443.7,208.9L445.7,206.2L447.2,205.8L448.2,206.7L449.2,209.6L449.3,212.5L448.8,215.0L447.7,217.7L446.2,219.9L444.2,221.6L442.2,222.6Z" fill="#b92000" fill-rule="evenodd"/>
<path d="M383.2,117.5L379.7,117.4L379.7,76.5L411.4,76.5L410.2,81.5L407.1,89.0L400.7,100.5L396.7,106.9L392.7,112.0L389.7,115.0L386.7,116.8L383.2,117.5ZM553.2,218.7L551.2,217.7L550.7,216.2L550.0,210.5L551.2,209.7L553.7,210.0L555.0,212.0L555.0,214.5L554.2,217.3L553.2,218.7Z" fill="#8b0000" fill-rule="evenodd"/>
<polygon points="550.7,298.2 550.7,296.5 567.1,296.5 567.1,294.7 594.1,294.7 594.1,287.5 595.1,287.5 595.1,281.5 596.1,281.5 596.1,276.5 597.1,276.5 597.1,273.5 598.2,273.5 598.2,270.8 601.4,270.8 601.4,298.2" fill="#fff"/>
<clipPath id="clip3"><rect x="219.0" y="431.0" width="221" height="221"/></clipPath>
<g clip-path="url(#clip3)">
<rect x="219.0" y="431.0" width="221" height="221" fill="#ffebd7"/>
<path d="M236.6,428.0L250.2,428.0L260.5,428.5L267.4,429.5L270.8,431.0L270.9,433.0L270.9,435.3L271.0,438.0L271.1,441.1L271.2,444.4L271.3,448.1L271.5,452.1L271.6,456.4L271.8,461.1L271.9,465.5L272.1,469.6L272.2,473.6L272.4,477.2L272.4,480.8L272.4,484.2L272.4,487.4L272.2,490.5L272.1,493.1L271.9,495.2L271.7,496.9L271.5,498.2L271.2,499.3L270.8,500.3L270.3,501.2L269.8,501.9L269.1,502.6L268.3,503.1L267.5,503.5L266.5,503.8L265.5,504.1L264.3,504.4L263.1,504.6L261.7,504.9L260.5,505.3L259.5,505.8L258.5,506.3L257.8,506.8L257.0,507.6L256.4,508.4L255.7,509.4L255.2,510.6L254.6,511.8L254.0,513.2L253.4,514.6L252.9,516.2L252.2,517.8L251.6,519.4L250.8,521.1L250.1,522.8L249.3,524.5L248.5,526.3L247.7,528.0L247.0,529.8L246.2,531.5L245.6,533.1L244.9,534.7L244.4,536.2L243.8,537.5L243.2,538.7L242.6,539.7L242.1,540.4L241.4,541.0L240.8,541.5L240.0,541.8L239.3,541.9L238.5,542.0L237.9,542.2L237.2,542.4L236.7,542.7L236.1,543.1L235.6,543.8L235.2,544.6L234.8,545.5L234.4,546.6L234.1,547.9L233.9,549.2L233.6,550.8L233.4,552.3L233.3,554.0L233.2,555.7L233.1,557.5L233.0,559.5L232.9,561.6L232.8,563.9L232.7,566.3L232.7,568.8L232.6,571.4L232.6,574.0L232.6,576.6L232.6,579.2L232.5,581.8L232.5,584.3L232.4,586.8L232.3,589.1L232.2,591.4L232.2,593.5L232.1,595.5L231.9,597.2L231.8,598.5L231.7,599.4L231.5,600.1L231.4,600.4L231.2,600.5L231.1,600.3L230.9,599.8L230.8,599.0L230.6,597.8L230.4,596.3L230.1,594.5L229.9,592.5L229.7,590.3L229.5,588.0L229.4,585.6L229.2,583.4L229.0,581.6L228.8,580.1L228.5,578.8L228.3,577.6L228.1,576.5L228.0,575.3L227.8,574.2L227.7,572.7L227.5,570.9L227.4,568.8L227.2,566.3L227.1,563.8L226.9,561.4L226.8,558.9L226.6,556.5L226.5,554.1L226.3,551.8L226.1,549.5L226.0,547.4L225.8,545.4L225.7,543.7L225.5,542.3L225.4,541.0L225.2,539.9L225.0,538.8L224.7,537.8L224.4,536.9L224.0,536.0L223.6,535.1L223.2,534.3L222.8,533.6L222.3,532.9L221.9,532.4L221.4,532.0L220.9,531.6L220.3,531.4L219.5,531.2L218.6,531.1L217.6,531.1L216.8,524.6L216.3,511.7L216.0,492.4L216.0,466.6L219.4,447.3L226.3,434.4Z" fill="#d7ebff"/>
<path d="M285.6,430.2L285.5,431.8L285.5,433.5L285.4,435.4L285.3,437.5L285.1,439.8L284.9,442.3L284.7,445.0L284.4,447.9L284.1,451.1L283.9,454.1L283.6,457.2L283.2,460.3L282.9,463.4L282.6,466.5L282.3,469.5L282.0,472.6L281.7,475.7L281.4,478.8L281.1,481.8L280.8,484.9L280.4,488.0L280.2,491.1L280.0,494.2L279.8,497.2L279.6,500.4L279.5,503.2L279.4,505.8L279.4,508.1L279.4,510.2L279.4,512.5L279.5,515.1L279.6,518.0L279.8,521.0L279.9,524.1L280.1,527.2L280.2,530.3L280.4,533.4L280.5,536.5L280.7,539.5L280.8,542.6L281.0,545.7L281.1,548.8L281.3,551.8L281.5,554.9L281.6,558.0L281.8,560.9L282.1,563.7L282.4,566.3L282.6,568.8L282.9,570.9L283.2,572.6L283.6,574.0L283.9,575.0L284.1,575.7L284.3,576.0L284.5,575.9L284.7,575.6L284.9,575.0L285.1,574.2L285.4,573.1L285.7,571.9L286.1,570.4L286.5,568.7L286.9,566.8L287.3,564.6L287.8,562.5L288.2,560.3L288.7,558.2L289.2,556.0L289.7,553.9L290.1,551.7L290.6,549.5L291.0,547.4L291.4,545.2L291.8,543.0L292.2,540.9L292.5,538.7L292.8,536.5L293.1,534.2L293.3,531.8L293.6,529.4L293.8,526.8L293.9,524.0L294.1,521.0L294.2,518.0L294.3,515.2L294.4,512.7L294.6,510.6L294.6,508.7L294.8,507.0L295.0,505.3L295.2,503.8L295.4,502.2L295.7,500.5L296.0,498.5L296.2,496.3L296.6,493.9L296.9,491.4L297.1,489.0L297.4,486.5L297.8,484.0L298.1,481.5L298.4,479.1L298.7,476.6L299.0,474.1L299.4,471.9L299.8,469.9L300.2,468.1L300.6,466.6L301.0,465.4L301.4,464.5L301.7,463.9L301.9,463.7L301.9,463.4L301.7,463.2L301.2,463.0L300.6,462.7L299.8,462.4L299.0,462.0L298.1,461.5L297.2,460.9L296.3,460.0L295.6,458.9L294.9,457.4L294.2,455.8L293.7,453.9L293.1,451.8L292.6,449.5L292.2,447.0L291.8,444.6L291.4,442.2L291.0,439.8L290.7,437.5L290.4,435.4L290.2,433.5L290.1,431.8L290.0,430.2L289.7,429.1L289.1,428.4L288.3,428.0L287.2,428.0L286.4,428.4L285.9,429.1Z" fill="#d7ebff"/>
<path d="M303.3,461.8L304.0,460.9L304.6,459.8L305.3,458.7L305.9,457.5L306.6,456.3L307.2,455.0L307.9,453.6L308.7,452.1L309.4,450.6L310.2,449.2L310.9,447.9L311.6,446.6L312.4,445.6L313.0,444.9L313.7,444.8L314.4,445.1L315.1,445.8L315.8,446.7L316.5,447.7L317.3,448.9L318.0,450.1L318.9,451.4L319.7,452.6L320.6,453.8L321.5,455.1L322.4,456.1L323.2,457.1L324.1,457.9L324.8,458.6L325.6,458.9L326.4,458.8L327.2,458.4L327.9,457.5L328.7,456.7L329.5,455.9L330.2,455.1L331.0,454.4L331.7,454.0L332.5,454.1L333.3,454.6L334.0,455.5L334.8,456.5L335.6,457.6L336.4,458.7L337.1,460.0L337.8,461.0L338.4,462.0L338.9,462.7L339.2,463.4L339.5,464.4L339.6,466.0L339.7,468.0L339.6,470.4L339.6,472.9L339.5,475.3L339.5,477.8L339.5,480.3L339.7,482.4L340.0,484.3L340.4,485.8L341.1,487.1L341.7,488.4L342.4,490.0L343.2,491.7L343.9,493.5L344.6,495.5L345.2,497.5L345.8,499.6L346.2,501.7L346.6,503.9L346.8,506.0L347.0,508.1L347.1,510.2L347.2,512.5L347.3,515.1L347.4,518.0L347.4,521.0L347.6,523.8L347.7,526.3L347.8,528.4L348.0,530.3L348.2,531.9L348.6,533.5L349.1,534.9L349.7,536.1L350.3,537.4L350.9,538.8L351.5,540.3L352.0,541.8L352.5,543.3L352.9,544.9L353.2,546.4L353.4,548.0L353.5,549.6L353.5,551.3L353.5,553.1L353.3,554.9L353.1,556.8L352.9,558.6L352.6,560.5L352.4,562.3L352.0,564.2L351.7,566.0L351.4,567.9L351.1,569.7L350.8,571.7L350.6,573.8L350.4,576.0L350.2,578.4L350.1,580.7L350.1,582.9L350.1,585.1L350.2,587.3L350.5,589.2L350.8,591.0L351.2,592.6L351.7,593.9L352.3,595.1L353.1,596.0L353.9,596.7L354.8,597.2L355.7,597.7L356.5,598.4L357.4,599.1L358.1,599.8L358.9,600.4L359.7,600.7L360.4,600.8L361.2,600.6L361.8,600.7L362.4,601.1L362.9,601.8L363.3,602.6L363.6,603.8L363.9,605.2L364.1,606.8L364.2,608.6L364.4,610.6L364.7,612.6L365.0,614.7L365.4,616.8L365.8,618.7L366.3,620.2L366.8,621.5L367.2,622.4L367.7,623.6L368.2,625.0L368.7,626.6L369.2,628.4L369.6,630.3L369.9,632.1L370.1,634.0L370.3,635.8L370.3,637.6L370.2,639.3L370.0,640.9L369.7,642.4L369.4,644.0L369.1,645.7L368.8,647.4L368.4,649.3L368.2,651.2L368.1,653.2L368.0,655.4L368.0,657.6L364.5,659.3L357.5,660.4L347.1,661.0L333.1,661.0L322.7,660.4L315.7,659.3L312.2,657.6L312.2,655.4L312.2,653.5L312.2,651.9L312.3,650.6L312.3,649.8L312.4,648.8L312.6,647.9L312.9,647.0L313.2,646.1L313.6,645.2L314.0,644.2L314.5,643.3L315.1,642.4L315.5,641.4L315.9,640.3L316.2,639.2L316.4,637.9L316.6,636.8L316.8,635.8L317.0,634.9L317.3,634.2L317.5,633.7L317.8,633.5L318.2,633.7L318.6,634.2L319.0,634.8L319.5,635.5L320.0,636.3L320.5,637.2L321.0,638.1L321.6,639.1L322.1,640.0L322.7,640.9L323.2,641.7L323.8,642.4L324.4,643.0L325.1,643.4L325.7,643.8L326.3,644.1L326.9,644.3L327.5,644.5L328.0,644.2L328.5,643.5L328.9,642.4L329.2,640.9L329.4,639.4L329.6,637.8L329.6,636.3L329.5,634.7L329.4,633.0L329.4,631.2L329.3,629.2L329.2,627.0L329.2,624.9L329.2,622.7L329.2,620.5L329.3,618.4L329.4,616.3L329.4,614.3L329.5,612.3L329.6,610.5L329.6,608.6L329.5,606.8L329.3,605.0L329.1,603.1L328.8,601.4L328.5,599.7L328.1,598.1L327.8,596.5L327.4,595.0L327.0,593.4L326.5,591.9L326.1,590.3L325.6,588.8L325.0,587.2L324.5,585.7L323.8,584.2L323.2,582.7L322.6,581.3L322.0,580.0L321.3,578.8L320.8,577.5L320.4,576.3L320.2,575.1L320.0,573.8L319.9,572.6L319.7,571.2L319.6,569.9L319.4,568.4L319.3,566.8L319.2,564.8L319.1,562.6L318.9,560.2L318.8,557.9L318.7,555.8L318.5,554.0L318.3,552.2L318.0,550.9L317.6,550.0L317.1,549.5L316.4,549.3L315.9,549.4L315.4,549.6L315.1,550.0L314.8,550.6L314.5,551.6L314.3,553.0L314.1,554.8L313.9,556.9L313.8,559.2L313.6,561.5L313.4,563.9L313.3,566.3L313.1,568.6L312.8,570.7L312.6,572.5L312.2,574.2L312.0,575.4L311.7,576.0L311.5,576.1L311.2,575.7L311.0,574.6L310.7,572.8L310.3,570.4L309.9,567.2L309.5,564.2L309.2,561.1L308.9,558.0L308.6,554.9L308.3,551.8L308.0,548.8L307.8,545.7L307.5,542.6L307.3,539.5L307.1,536.5L306.9,533.4L306.8,530.3L306.6,527.2L306.4,524.1L306.3,521.0L306.2,518.0L306.1,514.9L306.0,511.8L305.9,508.7L305.8,505.6L305.6,502.9L305.5,500.7L305.4,498.8L305.2,497.3L305.1,495.5L304.9,493.4L304.8,490.9L304.6,488.2L304.5,485.5L304.3,482.8L304.2,480.3L304.0,477.8L303.9,475.3L303.7,472.9L303.6,470.4L303.4,468.0L303.3,466.1L303.1,464.7L302.9,463.9L302.6,463.7L302.6,463.2L302.9,462.6Z" fill="#d7ebff"/>
<path d="M353.2,429.9L353.4,431.1L353.5,432.2L353.6,433.1L353.8,433.9L354.0,434.4L354.3,435.0L354.8,435.5L355.5,436.0L356.2,436.5L357.0,436.8L357.8,436.9L358.6,436.9L359.3,436.8L360.1,436.7L360.8,436.8L361.4,437.0L362.1,437.3L362.6,438.1L363.1,439.2L363.4,440.8L363.8,442.8L364.0,445.3L364.3,448.3L364.6,451.8L364.8,455.8L365.1,460.0L365.3,464.3L365.5,468.7L365.7,473.4L365.8,477.8L365.9,481.9L365.9,485.9L365.8,489.6L365.7,492.9L365.5,496.0L365.4,498.8L365.1,501.3L365.0,503.7L364.8,505.9L364.7,508.1L364.6,510.2L364.6,512.5L364.7,515.1L364.8,518.0L365.1,521.0L365.3,524.1L365.5,527.2L365.6,530.3L365.8,533.4L365.9,536.5L366.1,539.5L366.3,542.6L366.4,545.7L366.6,548.6L366.8,551.4L367.0,554.0L367.3,556.5L367.5,558.5L367.8,559.9L368.2,560.9L368.6,561.3L369.0,561.6L369.5,561.8L369.9,561.8L370.4,561.6L370.9,561.7L371.3,561.9L371.8,562.3L372.2,563.0L372.7,563.7L373.3,564.5L373.8,565.5L374.5,566.6L375.1,567.3L375.7,567.6L376.3,567.5L377.0,567.0L377.6,566.6L378.2,566.3L378.8,566.1L379.4,565.9L380.0,566.0L380.7,566.3L381.5,566.9L382.2,567.6L383.0,568.2L383.7,568.5L384.3,568.6L385.0,568.4L385.5,568.0L386.1,567.4L386.6,566.6L387.0,565.5L387.4,564.2L387.8,562.5L388.2,560.6L388.5,558.5L388.8,556.1L389.1,553.7L389.3,551.0L389.5,548.3L389.7,545.4L389.8,542.5L389.9,539.5L390.1,536.4L390.1,533.3L390.1,530.3L390.0,527.2L389.8,524.1L389.6,521.2L389.3,518.4L388.9,515.8L388.4,513.3L388.0,510.9L387.6,508.6L387.2,506.4L386.9,504.2L386.6,502.2L386.4,500.4L386.1,498.8L385.8,497.3L385.5,495.4L385.3,493.2L385.1,490.5L384.9,487.4L384.9,484.2L385.1,480.8L385.4,477.2L385.8,473.6L386.3,470.0L386.9,466.6L387.4,463.4L388.1,460.3L388.6,457.2L389.2,454.1L389.7,451.1L390.1,447.9L390.5,445.0L390.8,442.3L391.1,439.8L391.3,437.5L391.5,435.4L391.6,433.5L391.7,431.8L391.7,430.2L389.3,429.1L384.5,428.4L377.3,428.0L367.6,428.0L360.4,428.3L355.6,428.9Z" fill="#d7ebff"/>
<path d="M413.7,562.3L414.2,560.5L414.7,558.6L415.3,556.8L416.0,554.9L416.8,553.1L417.6,551.5L418.6,550.1L419.8,548.9L421.0,548.0L422.2,547.0L423.4,545.9L424.5,544.8L425.6,543.5L426.6,542.4L427.6,541.4L428.6,540.5L429.5,539.8L430.4,539.4L431.1,539.4L431.8,539.8L432.4,540.5L433.0,541.7L433.5,543.1L434.0,544.9L434.5,547.1L434.8,549.2L434.9,551.4L434.8,553.5L434.5,555.7L434.1,557.8L433.6,560.0L433.1,562.2L432.4,564.3L431.7,566.4L431.0,568.2L430.1,569.9L429.2,571.4L428.3,572.9L427.3,574.3L426.4,575.6L425.5,576.8L424.6,577.9L423.8,578.9L423.1,579.6L422.5,580.3L421.8,580.6L421.2,580.7L420.6,580.5L420.1,580.0L419.5,579.4L418.8,578.6L418.2,577.7L417.5,576.6L416.9,575.5L416.2,574.3L415.6,573.1L415.1,571.9L414.6,570.6L414.1,569.4L413.8,568.2L413.5,566.9L413.3,565.6L413.4,564.0Z" fill="#d7ebff"/>
<path d="M282.7,631.3L282.9,629.8L283.1,628.5L283.4,627.3L283.8,626.3L284.2,625.6L284.7,625.0L285.3,624.7L285.8,624.6L286.5,624.8L287.1,625.2L287.6,625.9L288.2,626.8L288.7,628.1L289.2,629.4L289.6,631.0L289.9,632.7L290.2,634.5L290.4,636.3L290.4,638.0L290.4,639.6L290.2,641.2L289.9,642.5L289.6,643.7L289.0,644.7L288.4,645.4L287.7,645.9L287.1,646.2L286.5,646.1L285.8,645.9L285.3,645.4L284.7,644.7L284.2,643.8L283.8,642.6L283.4,641.4L283.1,639.9L282.9,638.2L282.7,636.4L282.6,634.6L282.6,632.9Z" fill="#d7ebff"/>
<path d="M256.0,658.5L256.0,653.4L256.3,650.0L256.9,648.1L257.6,646.8L258.3,645.9L259.1,645.9L259.9,646.8L260.8,646.9L261.6,646.3L261.9,647.2L261.6,649.7L261.5,653.4L261.5,658.5L260.1,661.0L257.4,661.0Z" fill="#d7ebff"/>
<path d="M246.6,658.6L246.9,653.9L247.4,651.0L248.3,649.9L249.3,649.8L250.4,650.8L251.1,653.7L251.2,658.6L250.1,661.0L247.7,661.0Z" fill="#d7ebff"/>
<path d="M400.1,658.3L400.1,653.0L400.4,648.9L401.0,646.1L401.7,643.8L402.5,641.9L403.3,641.9L404.0,643.8L404.8,646.1L405.5,648.9L405.9,653.0L405.9,658.3L404.5,661.0L401.5,661.0Z" fill="#d7ebff"/>
<path d="M407.1,658.0L407.4,652.0L407.9,647.6L408.9,644.9L409.9,642.0L411.2,638.9L412.4,636.5L413.6,635.0L414.8,635.0L415.9,636.5L417.0,638.5L418.1,641.0L419.0,643.2L420.0,645.1L420.9,646.6L421.8,647.8L422.5,651.5L422.8,657.9L419.0,661.0L411.0,661.0Z" fill="#d7ebff"/>
<path d="M432.7,645.0L433.1,641.0L433.6,637.2L434.2,633.8L434.9,630.9L435.9,628.6L436.9,626.8L437.9,625.2L439.1,624.4L440.4,624.1L441.0,629.8L441.0,641.2L438.9,647.0L434.6,647.0Z" fill="#d7ebff"/>
<path d="M331.3,602.5L331.5,600.7L331.8,598.9L332.2,597.3L332.7,595.8L333.2,594.4L333.7,593.3L334.3,592.4L334.8,591.9L335.3,591.5L335.8,591.6L336.3,591.9L336.9,592.5L337.4,593.4L337.8,594.6L338.1,596.1L338.4,597.8L338.6,599.8L338.7,601.8L338.7,603.9L338.7,606.0L338.5,608.2L338.3,610.2L338.0,612.0L337.6,613.7L337.2,615.3L336.7,616.6L336.1,617.6L335.6,618.4L334.9,619.0L334.3,619.2L333.8,619.0L333.2,618.5L332.7,617.7L332.2,616.6L331.8,615.5L331.5,614.1L331.3,612.5L331.1,611.1L331.0,609.7L330.9,608.4L330.9,607.1L331.0,605.8L331.1,604.2Z" fill="#ffebd7"/>
<path d="M316.2,644.8L316.7,644.1L317.2,643.4L317.6,643.0L318.1,642.7L318.5,642.5L318.9,642.6L319.3,642.9L319.6,643.5L319.9,644.2L320.2,645.0L320.4,645.8L320.6,646.5L320.6,647.3L320.6,648.0L320.5,648.6L320.2,649.1L319.8,649.6L319.3,649.9L318.8,650.1L318.3,650.1L317.6,649.9L317.1,649.6L316.6,649.0L316.2,648.3L315.9,647.4L315.8,646.5L315.9,645.6Z" fill="#ffebd7"/>
<path d="M285.0,513.9L285.5,513.4L286.0,513.2L286.4,513.2L286.9,513.4L287.3,513.9L287.7,514.8L288.1,516.1L288.5,517.8L288.8,520.0L289.1,522.2L289.3,524.5L289.5,526.9L289.7,529.3L289.8,531.8L289.8,534.2L289.7,536.7L289.5,539.2L289.3,541.7L289.1,544.1L288.7,546.6L288.4,549.1L287.9,551.5L287.5,553.8L287.0,556.0L286.4,558.2L285.9,559.9L285.4,561.1L284.9,561.9L284.4,562.1L284.0,561.9L283.6,561.1L283.2,559.8L282.9,558.0L282.7,556.0L282.5,553.8L282.4,551.5L282.2,549.1L282.2,546.5L282.2,543.9L282.2,541.2L282.4,538.5L282.5,535.7L282.6,532.9L282.7,530.1L282.9,527.4L283.1,524.7L283.3,522.3L283.6,520.0L283.9,517.8L284.2,516.1L284.6,514.8Z" fill="#afc8ff"/>
<path d="M320.7,526.9L321.0,524.4L321.2,521.9L321.5,519.5L321.8,517.0L322.1,514.6L322.4,512.3L322.7,510.2L323.1,508.4L323.5,506.6L324.0,505.3L324.6,504.3L325.3,503.6L326.0,503.3L326.9,503.1L327.8,503.0L328.8,503.1L329.9,503.2L330.9,503.6L331.7,504.1L332.4,504.9L333.1,505.8L333.6,507.0L334.1,508.6L334.4,510.4L334.8,512.6L335.0,514.8L335.2,517.1L335.4,519.5L335.6,522.0L335.7,524.6L335.8,527.4L335.9,530.3L336.1,533.4L336.1,536.3L336.2,539.1L336.2,541.7L336.2,544.1L336.1,546.3L336.0,548.1L335.8,549.7L335.6,550.9L335.3,551.8L335.0,552.4L334.6,552.6L334.2,552.4L333.8,552.0L333.5,551.2L333.1,550.1L332.9,548.7L332.5,547.3L332.2,546.0L331.8,544.8L331.5,543.5L331.0,542.5L330.4,541.7L329.7,541.1L329.0,540.8L328.1,540.4L327.3,540.1L326.4,539.8L325.5,539.6L324.6,539.2L323.8,538.6L323.1,537.8L322.4,536.9L321.8,535.9L321.3,534.8L321.0,533.7L320.7,532.4L320.6,530.9L320.6,529.0Z" fill="#afc8ff"/>
<path d="M370.9,529.0L371.2,527.2L371.6,525.5L372.0,523.9L372.4,522.6L372.9,521.3L373.4,520.4L373.9,519.7L374.5,519.3L375.1,519.1L375.7,519.2L376.4,519.5L377.2,520.1L377.9,520.8L378.7,521.8L379.5,523.0L380.3,524.3L381.0,525.8L381.7,527.4L382.3,529.1L382.8,530.9L383.1,532.7L383.4,534.6L383.7,536.6L383.8,538.7L383.9,540.9L383.9,543.0L383.9,545.0L383.8,546.9L383.6,548.7L383.3,550.3L382.9,551.5L382.2,552.4L381.5,553.1L380.6,553.6L379.7,554.2L378.7,554.7L377.6,555.2L376.7,555.4L375.8,555.2L375.1,554.7L374.5,554.0L373.9,552.8L373.4,551.1L372.9,549.1L372.4,546.6L372.0,544.4L371.6,542.4L371.4,540.6L371.1,539.0L371.0,537.6L370.8,536.2L370.7,534.9L370.6,533.6L370.6,532.3L370.7,530.7Z" fill="#afc8ff"/>
<path d="M235.5,428.0L248.6,428.0L258.3,428.5L264.8,429.5L268.1,431.0L268.1,433.0L268.1,435.3L268.1,438.0L268.0,441.1L268.0,444.4L267.9,448.0L267.9,451.7L267.8,455.5L267.8,459.5L267.7,463.4L267.5,467.3L267.2,471.1L266.9,474.8L266.6,477.8L266.2,480.3L265.8,482.1L265.3,483.4L264.7,484.5L264.0,485.6L263.2,486.6L262.3,487.5L261.4,488.4L260.4,489.2L259.5,490.0L258.6,490.8L257.7,491.5L257.0,492.3L256.3,493.1L255.6,493.8L255.0,494.8L254.5,495.8L253.9,497.1L253.4,498.4L252.9,499.8L252.3,501.2L251.8,502.5L251.2,503.9L250.7,505.2L250.1,506.6L249.5,508.0L248.9,509.4L248.3,510.7L247.7,511.9L247.1,513.0L246.4,514.0L245.8,514.8L245.2,515.5L244.6,516.0L243.9,516.2L243.3,516.4L242.7,516.4L242.1,516.2L241.5,516.0L240.9,515.6L240.3,515.3L239.8,514.9L239.2,514.5L238.7,514.4L238.2,514.5L237.7,514.8L237.3,515.5L236.8,516.2L236.3,517.2L235.8,518.2L235.2,519.5L234.7,520.7L234.1,521.8L233.5,523.0L232.8,524.0L232.2,525.0L231.5,525.8L230.8,526.5L230.0,527.0L229.2,527.3L228.4,527.4L227.5,527.4L226.6,527.0L225.7,526.7L224.7,526.3L223.8,525.8L222.9,525.2L221.8,524.8L220.7,524.4L219.4,524.1L218.1,523.8L217.0,517.7L216.3,505.6L216.0,487.7L216.0,463.8L219.3,445.9L225.8,434.0Z" fill="#afc8ff"/>
<path d="M234.8,428.0L247.4,428.0L256.8,428.4L263.1,429.3L266.2,430.6L266.2,432.4L266.2,434.4L266.1,436.6L266.1,439.1L265.9,441.8L265.8,444.6L265.7,447.7L265.6,450.9L265.4,454.3L265.2,457.4L264.9,460.2L264.5,462.6L264.1,464.8L263.5,466.7L262.8,468.4L262.0,469.8L261.1,471.1L260.2,472.3L259.5,473.5L258.8,474.7L258.1,475.9L257.5,477.0L256.8,477.9L256.1,478.6L255.4,479.3L254.8,480.0L254.1,481.0L253.4,482.0L252.7,483.3L252.1,484.5L251.5,485.8L250.9,487.2L250.3,488.6L249.8,490.0L249.2,491.5L248.7,493.0L248.2,494.5L247.7,495.8L247.2,496.9L246.7,497.9L246.2,498.6L245.7,499.0L245.2,499.1L244.7,499.0L244.1,498.6L243.6,498.0L243.0,497.2L242.5,496.2L242.0,494.9L241.5,493.7L241.0,492.5L240.6,491.3L240.2,490.0L239.8,488.9L239.5,487.9L239.2,487.0L238.8,486.3L238.6,485.8L238.3,485.8L238.1,486.0L237.8,486.7L237.6,487.5L237.3,488.5L237.1,489.7L236.8,491.0L236.4,492.5L236.1,494.1L235.7,495.9L235.3,497.7L234.8,499.5L234.3,501.2L233.8,502.8L233.2,504.2L232.6,505.8L232.1,507.3L231.6,508.8L231.1,510.4L230.6,511.8L230.0,513.0L229.3,514.0L228.7,514.8L227.9,515.5L227.1,515.9L226.2,516.2L225.3,516.3L224.4,516.3L223.4,516.2L222.5,516.0L221.6,515.6L220.6,515.4L219.6,515.2L218.6,515.0L217.6,515.0L216.8,509.4L216.3,498.6L216.0,482.2L216.0,460.6L219.1,444.3L225.4,433.4Z" fill="#82a5ff"/>
<path d="M234.2,428.0L246.2,428.0L255.3,428.4L261.4,429.3L264.4,430.6L264.4,432.4L264.4,434.2L264.3,436.1L264.2,438.1L264.1,440.2L264.0,442.3L263.8,444.4L263.6,446.6L263.2,448.7L262.9,450.7L262.5,452.5L262.1,454.1L261.6,455.4L261.1,456.6L260.7,457.6L260.2,458.4L259.7,459.1L259.2,459.7L258.6,460.3L257.9,460.9L257.1,461.5L256.4,462.2L255.8,462.9L255.2,463.8L254.6,464.6L254.1,465.6L253.7,466.6L253.3,467.6L253.1,468.7L252.7,469.9L252.3,471.2L251.8,472.6L251.2,474.2L250.7,475.7L250.1,477.3L249.6,478.8L249.1,480.3L248.6,481.6L248.1,482.8L247.6,483.8L247.1,484.5L246.6,484.7L246.1,484.4L245.6,483.4L245.1,481.9L244.6,480.3L244.1,478.6L243.7,476.8L243.3,475.0L242.9,473.3L242.6,471.9L242.2,470.6L241.9,469.6L241.7,468.5L241.4,467.3L241.2,466.1L240.9,464.9L240.7,463.6L240.5,462.4L240.2,461.2L240.0,459.9L239.7,458.9L239.5,458.0L239.3,457.2L239.0,456.6L238.8,456.4L238.6,456.7L238.4,457.3L238.1,458.4L237.9,459.5L237.7,460.8L237.6,462.1L237.4,463.4L237.3,464.8L237.1,466.2L236.9,467.5L236.6,468.9L236.4,470.4L236.2,471.9L235.9,473.7L235.7,475.5L235.4,477.4L235.1,479.3L234.8,481.3L234.6,483.3L234.2,485.3L233.9,487.2L233.5,489.1L233.2,490.9L232.8,492.7L232.3,494.5L231.9,496.2L231.4,497.9L230.9,499.5L230.3,500.9L229.8,502.1L229.1,503.1L228.5,504.1L227.8,504.9L227.1,505.6L226.3,506.3L225.5,506.8L224.7,507.1L223.8,507.3L222.9,507.4L221.8,507.4L220.7,507.4L219.4,507.4L218.1,507.3L217.0,502.3L216.3,492.4L216.0,477.5L216.0,457.7L219.0,442.9L225.1,432.9Z" fill="#4678fa"/>
<path d="M223.8,428.0L229.1,428.0L233.0,428.3L235.6,428.9L236.9,429.9L236.9,431.1L236.9,432.5L236.8,434.0L236.8,435.7L236.7,437.5L236.6,439.4L236.5,441.4L236.3,443.5L236.2,445.6L236.0,447.8L235.8,450.0L235.6,452.1L235.4,454.3L235.2,456.4L235.0,458.6L234.8,460.7L234.7,462.8L234.5,464.7L234.3,466.4L234.2,467.8L234.0,469.1L233.9,470.4L233.7,472.0L233.5,473.7L233.2,475.5L233.0,477.4L232.7,479.2L232.4,481.1L232.1,482.9L231.8,484.7L231.4,486.5L231.0,488.2L230.7,489.9L230.2,491.5L229.7,493.0L229.2,494.3L228.5,495.6L227.9,496.6L227.2,497.5L226.4,498.2L225.7,498.8L224.8,499.2L224.0,499.4L223.1,499.5L222.2,499.4L221.2,499.4L220.1,499.3L219.0,499.3L217.8,499.2L216.9,494.8L216.3,485.9L216.0,472.5L216.0,454.7L217.3,441.4L219.9,432.4Z" fill="#1e50ff"/>
<path d="M241.8,429.9L241.8,431.1L241.8,432.5L241.9,434.0L241.9,435.7L242.0,437.5L242.1,439.4L242.2,441.3L242.3,443.2L242.5,445.3L242.7,447.2L242.8,449.2L243.1,451.1L243.3,452.9L243.6,454.7L243.9,456.4L244.2,458.0L244.4,459.5L244.8,461.0L245.1,462.3L245.5,463.6L245.8,464.9L246.2,465.9L246.5,466.6L246.8,467.2L247.0,467.5L247.3,467.6L247.6,467.4L247.8,467.1L248.2,466.4L248.5,465.7L248.9,464.7L249.3,463.7L249.7,462.4L250.2,461.2L250.8,460.1L251.3,459.0L252.0,457.9L252.6,456.9L253.3,456.1L254.1,455.4L254.8,454.7L255.6,454.2L256.4,453.6L257.1,453.1L257.9,452.7L258.6,452.1L259.1,451.4L259.7,450.6L260.1,449.7L260.5,448.5L260.9,447.1L261.2,445.5L261.5,443.7L261.7,441.9L261.9,440.1L262.1,438.3L262.1,436.6L262.2,434.9L262.3,433.3L262.3,431.8L262.4,430.2L261.1,429.1L258.5,428.4L254.7,428.0L249.5,428.0L245.7,428.3L243.1,428.9Z" fill="#1e50ff"/>
<path d="M222.7,428.0L227.1,428.0L230.5,428.3L232.7,428.9L233.8,429.9L233.8,431.1L233.8,432.5L233.7,434.0L233.7,435.7L233.6,437.5L233.5,439.4L233.4,441.4L233.3,443.5L233.2,445.6L233.1,447.8L233.0,450.0L232.8,452.1L232.6,454.3L232.4,456.4L232.2,458.6L231.9,460.7L231.7,462.8L231.4,464.7L231.2,466.4L231.0,467.8L230.7,469.1L230.5,470.4L230.2,471.8L229.9,473.2L229.7,474.8L229.3,476.3L228.9,477.7L228.5,479.2L228.0,480.5L227.5,481.8L227.0,482.9L226.4,483.9L225.8,484.7L225.2,485.4L224.5,485.9L223.8,486.2L223.2,486.4L222.2,486.4L221.1,486.4L219.8,486.3L218.3,486.0L217.1,482.3L216.4,474.9L216.0,464.1L216.0,449.6L217.1,438.8L219.3,431.6Z" fill="#0034dc"/>
<path d="M221.6,428.0L225.4,428.0L228.2,428.3L230.1,428.9L231.0,429.9L231.0,431.1L231.0,432.5L230.9,434.0L230.9,435.7L230.8,437.5L230.7,439.4L230.6,441.4L230.5,443.5L230.3,445.6L230.2,447.8L230.0,449.9L229.8,451.9L229.5,453.9L229.3,455.8L229.1,457.7L228.8,459.4L228.6,461.1L228.3,462.6L228.2,463.7L228.0,464.6L227.8,465.1L227.6,465.8L227.4,466.7L227.2,467.6L226.8,468.7L226.5,469.7L226.1,470.6L225.7,471.5L225.2,472.2L224.7,472.9L224.1,473.4L223.4,473.7L222.6,474.0L221.7,474.1L220.7,474.2L219.4,474.3L218.1,474.3L217.0,471.4L216.3,465.6L216.0,456.9L216.0,445.4L216.9,436.7L218.8,430.9Z" fill="#001eb9"/>
<path d="M220.6,428.0L223.6,428.0L225.9,428.3L227.4,428.9L228.2,429.9L228.2,431.1L228.2,432.5L228.1,434.0L228.1,435.7L228.0,437.5L227.9,439.4L227.8,441.3L227.6,443.2L227.3,445.3L227.1,447.2L226.8,449.2L226.4,451.1L226.1,452.9L225.7,454.6L225.2,456.0L224.8,457.3L224.3,458.4L223.8,459.3L223.2,460.0L222.6,460.6L221.8,460.9L221.0,461.2L220.1,461.4L219.0,461.5L217.8,461.5L216.9,459.4L216.3,455.2L216.0,448.9L216.0,440.6L216.8,434.3L218.3,430.1Z" fill="#00008b"/>
<path d="M272.1,430.2L272.1,431.8L272.2,433.1L272.3,434.4L272.4,435.6L272.4,436.8L272.6,438.1L272.9,439.7L273.3,441.6L273.8,443.8L274.2,445.6L274.7,447.0L275.1,448.2L275.4,448.9L275.8,449.3L276.2,449.3L276.6,448.9L277.0,448.2L277.4,447.0L277.8,445.6L278.3,443.8L278.7,441.6L279.1,439.7L279.4,438.1L279.7,436.8L279.9,435.6L280.1,434.4L280.2,433.1L280.3,431.8L280.3,430.2L279.8,429.1L278.8,428.4L277.2,428.0L275.1,428.0L273.6,428.4L272.6,429.1Z" fill="#ffceb4"/>
<path d="M404.2,430.6L404.1,432.4L404.0,434.2L403.7,436.1L403.4,438.1L403.1,440.2L402.6,442.5L402.1,445.1L401.6,447.9L401.0,451.1L400.4,454.1L399.9,457.2L399.4,460.3L398.9,463.4L398.5,466.5L398.1,469.5L397.8,472.6L397.5,475.7L397.2,478.8L397.0,481.8L396.8,484.9L396.6,488.0L396.5,491.1L396.4,494.2L396.4,497.2L396.4,500.4L396.4,503.2L396.4,505.8L396.4,508.1L396.4,510.2L396.4,512.5L396.3,515.1L396.1,518.0L396.0,521.0L395.8,524.1L395.6,527.2L395.5,530.3L395.3,533.4L395.2,536.5L395.0,539.5L394.9,542.6L394.7,545.7L394.5,548.6L394.3,551.4L394.0,554.0L393.8,556.5L393.4,559.0L393.0,561.4L392.6,563.9L392.1,566.3L391.7,568.9L391.3,571.5L391.0,574.1L390.6,576.9L390.4,579.1L390.2,580.9L390.0,582.2L389.8,583.1L389.8,584.5L389.8,586.4L389.8,589.0L390.0,592.0L390.2,595.1L390.5,598.0L390.9,600.8L391.3,603.6L391.9,606.0L392.5,608.2L393.2,610.0L393.9,611.6L394.6,612.9L395.3,613.9L395.8,614.6L396.3,615.1L396.8,615.3L397.5,615.3L398.2,615.1L398.9,614.6L399.8,614.1L400.7,613.7L401.7,613.2L402.8,612.8L403.7,612.2L404.6,611.4L405.3,610.5L405.9,609.4L406.5,608.0L407.0,606.4L407.5,604.5L408.0,602.3L408.4,599.9L408.8,597.3L409.1,594.5L409.5,591.4L409.7,588.4L409.8,585.4L409.9,582.4L409.9,579.4L409.9,576.6L409.8,573.9L409.7,571.3L409.5,568.8L409.4,566.3L409.3,563.9L409.2,561.4L409.2,558.9L409.2,556.6L409.2,554.4L409.3,552.4L409.4,550.6L409.6,548.8L410.0,547.1L410.4,545.5L411.0,544.0L411.7,542.4L412.5,540.7L413.4,538.9L414.5,537.1L415.6,535.1L416.6,533.1L417.7,531.1L418.8,528.9L419.8,526.8L420.8,524.6L421.8,522.4L422.7,520.3L423.6,518.1L424.3,515.9L425.0,513.8L425.7,511.6L426.2,509.6L426.7,507.6L427.1,505.6L427.5,503.8L427.9,501.9L428.3,499.9L428.9,497.9L429.4,495.8L429.9,493.4L430.4,490.8L430.8,488.0L431.0,484.9L431.3,481.8L431.5,478.8L431.7,475.7L431.9,472.6L432.0,469.1L432.1,465.3L432.2,461.1L432.4,456.4L432.4,452.1L432.4,447.9L432.4,444.1L432.3,440.4L432.2,437.3L432.2,434.6L432.2,432.4L432.1,430.6L430.4,429.3L426.9,428.4L421.7,428.0L414.8,428.0L409.6,428.4L406.1,429.3Z" fill="#ffceb4"/>
<path d="M416.9,430.6L416.8,432.4L416.7,434.1L416.5,435.7L416.2,437.2L416.0,438.7L415.5,440.3L415.0,442.1L414.3,444.1L413.6,446.3L412.7,448.4L411.8,450.6L410.8,452.7L409.7,454.9L408.8,457.1L407.9,459.4L407.2,461.8L406.5,464.3L406.0,466.9L405.5,469.7L405.1,472.6L404.9,475.7L404.6,478.8L404.5,481.8L404.5,484.9L404.5,488.0L404.6,491.0L404.8,493.9L405.1,496.8L405.4,499.5L405.7,501.9L406.0,503.8L406.3,505.3L406.6,506.4L406.9,507.4L407.2,508.3L407.6,509.1L408.1,509.8L408.6,510.4L409.2,510.9L409.9,511.4L410.6,511.6L411.4,511.7L412.2,511.6L413.0,511.2L413.7,510.5L414.5,509.8L415.2,508.8L415.8,507.8L416.4,506.5L417.0,505.3L417.5,503.9L418.0,502.6L418.5,501.1L419.1,499.7L419.8,498.2L420.6,496.6L421.5,495.0L422.4,493.0L423.1,490.7L423.8,488.0L424.4,484.9L424.9,481.8L425.4,478.8L425.8,475.7L426.1,472.6L426.4,469.5L426.6,466.5L426.8,463.4L427.0,460.3L427.0,457.2L427.0,454.1L427.0,451.1L426.8,447.9L426.7,445.1L426.5,442.5L426.4,440.2L426.3,438.1L426.2,436.1L426.1,434.2L426.1,432.4L426.0,430.6L425.5,429.3L424.3,428.4L422.6,428.0L420.4,428.0L418.7,428.4L417.5,429.3Z" fill="#ffaa82"/>
<path d="M393.5,577.8L393.7,575.7L393.9,573.6L394.2,571.4L394.6,569.3L395.0,567.1L395.5,565.2L396.1,563.5L396.6,562.0L397.3,560.8L397.9,559.8L398.6,559.1L399.4,558.7L400.1,558.5L400.9,558.6L401.6,558.9L402.2,559.5L402.9,560.2L403.4,561.3L404.0,562.6L404.5,564.2L404.9,566.0L405.3,568.0L405.7,570.0L406.0,572.0L406.4,574.2L406.6,576.2L406.8,578.2L407.0,580.0L407.1,581.7L407.1,583.6L407.1,585.7L406.9,588.0L406.6,590.5L406.3,592.6L405.9,594.5L405.5,596.0L405.1,597.3L404.5,598.3L403.9,599.1L403.2,599.8L402.5,600.3L401.7,600.8L400.9,601.2L400.1,601.7L399.4,602.1L398.6,602.4L397.9,602.4L397.3,602.1L396.6,601.7L396.1,600.9L395.5,599.8L395.0,598.5L394.6,596.8L394.2,594.9L393.8,592.8L393.6,590.5L393.3,588.0L393.2,586.0L393.1,584.3L393.1,583.1L393.2,582.2L393.3,581.1L393.4,579.6Z" fill="#ffaa82"/>
<path d="M396.6,578.2L396.8,577.5L397.0,576.8L397.2,576.2L397.6,575.8L397.9,575.5L398.3,575.3L398.7,575.4L399.1,575.6L399.5,575.9L399.8,576.6L400.1,577.4L400.4,578.5L400.5,579.9L400.6,581.2L400.6,582.5L400.5,583.7L400.4,585.0L400.1,586.0L399.8,586.8L399.4,587.5L398.9,587.9L398.5,588.1L398.0,588.0L397.6,587.7L397.3,587.1L397.0,586.2L396.7,585.1L396.6,583.6L396.5,582.0L396.5,580.5L396.5,579.2Z" fill="#ff7a42"/>
<path d="M441.0,570.6L439.7,571.4L438.6,571.9L437.7,572.1L437.0,572.0L436.5,571.8L436.0,571.7L435.6,571.9L435.1,572.3L434.7,573.0L434.2,573.8L433.8,574.8L433.4,576.0L432.9,577.4L432.6,578.9L432.3,580.7L432.0,582.6L431.8,584.8L431.7,586.9L431.6,589.1L431.6,591.3L431.6,593.4L431.7,595.5L431.9,597.3L432.2,599.0L432.5,600.5L432.9,601.7L433.2,602.5L433.6,603.0L434.0,603.2L434.4,603.2L434.8,603.0L435.3,602.7L435.7,602.3L436.2,601.9L436.6,601.5L437.0,601.1L437.3,600.9L437.9,600.4L438.8,599.8L439.8,599.1L441.1,598.3L442.0,595.9L442.7,592.1L443.0,586.7L443.0,579.8L442.7,574.8L442.0,571.8Z" fill="#ffceb4"/>
<path d="M262.7,519.0L264.0,519.4L265.2,520.0L266.4,520.8L267.7,521.7L268.9,522.8L270.0,524.0L270.9,525.3L271.7,526.7L272.3,528.3L272.8,529.9L273.2,531.6L273.5,533.4L273.6,535.2L273.8,537.2L274.1,539.4L274.4,541.7L274.6,544.1L275.0,546.6L275.4,549.0L275.8,551.5L276.2,554.0L276.6,556.5L277.0,558.9L277.4,561.4L277.7,563.9L278.0,566.2L278.4,568.4L278.7,570.4L279.1,572.2L279.4,574.0L279.8,575.7L280.2,577.2L280.6,578.8L281.0,580.2L281.3,581.6L281.7,582.9L282.0,584.1L282.3,585.3L282.4,586.5L282.5,587.7L282.5,588.8L282.5,590.2L282.4,591.8L282.3,593.7L282.1,595.9L281.9,598.1L281.7,600.4L281.4,602.8L281.1,605.3L280.8,607.8L280.5,610.2L280.1,612.7L279.9,615.1L279.5,617.4L279.1,619.4L278.7,621.1L278.3,622.7L277.8,623.9L277.2,624.8L276.7,625.5L276.0,625.8L275.4,625.9L274.7,625.8L273.9,625.5L273.2,625.1L272.4,624.7L271.5,624.4L270.6,624.2L269.7,624.0L268.8,623.8L268.1,623.4L267.4,622.9L266.7,622.2L266.1,621.7L265.5,621.1L264.9,620.6L264.3,620.2L263.7,619.9L263.0,619.7L262.2,619.7L261.5,619.9L260.7,620.1L260.0,620.5L259.4,621.0L258.7,621.6L258.1,622.3L257.5,623.0L256.9,623.9L256.3,624.8L255.7,625.4L255.2,625.7L254.7,625.8L254.2,625.5L253.7,625.0L253.3,624.4L252.8,623.6L252.4,622.7L251.9,621.9L251.3,621.2L250.8,620.6L250.1,620.2L249.4,619.9L248.7,619.7L247.8,619.7L246.9,619.9L246.0,620.2L245.3,620.8L244.6,621.5L243.9,622.4L243.4,623.6L242.8,625.0L242.3,626.6L241.9,628.4L241.5,630.4L241.2,632.6L241.0,634.9L240.8,637.3L240.7,639.9L240.6,642.5L240.6,645.1L240.6,647.9L240.6,650.5L240.6,653.0L240.6,655.4L240.6,657.6L239.1,659.3L236.0,660.4L231.4,661.0L225.2,661.0L220.6,653.1L217.5,637.3L216.0,613.6L216.0,581.9L216.3,558.4L216.8,542.8L217.6,535.3L218.6,535.9L219.5,536.7L220.3,537.7L220.9,539.0L221.4,540.6L221.9,542.2L222.3,543.9L222.8,545.7L223.2,547.5L223.6,549.5L224.0,551.7L224.3,554.0L224.5,556.5L224.8,559.0L224.9,561.4L225.1,563.9L225.3,566.3L225.4,568.7L225.6,570.9L225.7,573.0L225.8,575.0L226.0,576.9L226.2,578.7L226.4,580.4L226.6,581.9L226.8,583.9L227.1,586.2L227.2,589.0L227.4,592.0L227.6,595.1L227.8,598.2L228.0,601.3L228.2,604.4L228.5,607.4L228.8,610.3L229.2,613.2L229.5,615.9L229.9,618.5L230.3,620.8L230.8,622.9L231.2,624.7L231.7,626.2L232.1,627.4L232.5,628.3L232.9,628.8L233.3,629.0L233.7,629.0L234.1,628.6L234.4,627.9L234.8,626.9L235.1,625.5L235.4,623.9L235.6,621.8L235.8,619.7L236.0,617.5L236.2,615.1L236.3,612.7L236.4,610.1L236.5,607.3L236.7,604.4L236.8,601.3L236.8,598.2L236.9,595.1L236.9,592.0L237.0,589.0L237.0,586.3L237.0,584.1L237.0,582.3L237.0,581.0L237.0,579.7L237.1,578.4L237.1,577.1L237.2,575.9L237.3,574.7L237.4,573.6L237.5,572.5L237.7,571.5L237.9,570.6L238.3,569.9L238.8,569.3L239.4,568.9L239.9,568.4L240.4,567.9L240.7,567.4L241.0,566.8L241.3,566.0L241.6,564.9L242.0,563.6L242.4,561.9L242.8,560.1L243.2,558.2L243.6,556.0L244.0,553.7L244.4,551.4L244.8,549.1L245.2,546.8L245.7,544.5L246.2,542.3L246.7,540.3L247.3,538.4L248.0,536.6L248.7,534.9L249.4,533.1L250.2,531.3L251.1,529.6L251.9,527.9L252.8,526.3L253.7,524.8L254.6,523.4L255.6,522.2L256.7,521.1L257.8,520.2L259.1,519.4L260.3,519.0L261.5,518.8Z" fill="#ffceb4"/>
<path d="M262.3,530.7L263.2,531.1L264.1,531.8L265.1,532.6L266.0,533.6L266.9,534.9L267.8,536.2L268.5,537.6L269.2,539.0L269.9,540.6L270.4,542.2L270.9,543.9L271.2,545.7L271.6,547.5L271.9,549.5L272.1,551.7L272.4,554.0L272.8,556.5L273.1,559.0L273.4,561.4L273.7,563.9L274.0,566.3L274.4,568.5L274.7,570.5L275.1,572.2L275.4,573.8L275.9,575.2L276.3,576.5L276.8,577.7L277.4,578.9L277.8,580.4L278.2,582.2L278.4,584.3L278.6,586.8L278.6,589.3L278.6,591.7L278.6,594.2L278.4,596.7L278.2,599.0L278.0,601.2L277.7,603.1L277.4,605.0L277.0,606.5L276.6,607.7L276.2,608.6L275.8,609.3L275.2,609.7L274.6,609.8L273.9,609.8L273.2,609.5L272.4,609.3L271.5,609.2L270.6,609.2L269.7,609.4L268.8,609.3L267.9,608.9L267.1,608.2L266.4,607.3L265.6,606.4L264.7,605.7L263.8,605.0L262.9,604.3L262.0,604.0L261.0,603.8L260.1,603.9L259.2,604.2L258.3,604.5L257.4,604.8L256.6,605.1L255.9,605.5L255.1,605.2L254.3,604.5L253.6,603.4L252.8,601.6L252.0,599.9L251.2,598.1L250.3,596.3L249.4,594.5L248.6,592.5L247.9,590.3L247.3,588.0L246.8,585.6L246.4,583.2L246.0,580.8L245.7,578.4L245.4,576.0L245.2,573.6L245.2,571.2L245.2,568.8L245.3,566.3L245.6,563.8L245.9,561.4L246.4,558.9L247.1,556.5L247.7,554.1L248.3,551.8L248.9,549.5L249.5,547.4L250.1,545.3L250.8,543.3L251.6,541.3L252.3,539.5L253.2,537.8L254.0,536.2L254.9,534.9L255.8,533.6L256.7,532.6L257.7,531.8L258.6,531.1L259.5,530.7L260.4,530.5L261.4,530.5Z" fill="#ffaa82"/>
<path d="M261.5,543.0L262.2,543.4L263.0,544.1L263.8,544.9L264.6,546.0L265.3,547.2L266.1,548.6L266.8,550.2L267.4,551.9L268.0,553.7L268.6,555.6L269.1,557.6L269.5,559.7L269.9,561.9L270.3,564.0L270.7,566.0L271.1,568.1L271.4,570.0L271.8,571.8L272.3,573.2L272.7,574.5L273.2,575.4L273.6,576.6L273.8,578.0L274.0,579.7L274.1,581.5L274.1,583.5L274.0,585.5L273.8,587.6L273.6,589.7L273.3,591.6L272.9,593.1L272.5,594.4L272.1,595.3L271.6,596.1L271.0,596.7L270.5,597.1L269.8,597.5L269.2,597.4L268.5,597.1L267.7,596.5L267.0,595.6L266.1,594.7L265.2,594.0L264.2,593.3L263.1,592.6L262.0,592.1L261.0,591.6L259.9,591.2L258.8,591.0L257.8,590.5L256.8,589.9L255.8,589.1L254.9,588.2L254.0,587.0L253.1,585.6L252.3,584.0L251.4,582.2L250.7,580.4L250.1,578.7L249.6,577.0L249.1,575.4L248.8,573.7L248.7,571.9L248.6,570.0L248.7,568.1L248.8,566.0L249.1,564.0L249.4,561.9L249.7,559.7L250.2,557.6L250.7,555.6L251.3,553.7L252.0,551.9L252.7,550.2L253.5,548.6L254.3,547.2L255.2,546.0L256.1,544.9L257.0,544.1L257.9,543.4L258.9,543.0L259.8,542.8L260.6,542.8Z" fill="#ff7a42"/>
<path d="M262.1,556.4L262.8,557.1L263.6,558.1L264.4,559.2L265.2,560.4L265.9,561.8L266.6,563.3L267.2,564.9L267.8,566.7L268.2,568.5L268.6,570.3L268.9,571.9L269.1,573.4L269.1,574.9L269.2,576.2L269.1,577.4L268.9,578.5L268.7,579.5L268.3,580.3L267.9,580.9L267.4,581.4L266.9,581.6L266.2,581.7L265.4,581.5L264.5,581.1L263.6,580.4L262.6,579.8L261.6,579.2L260.7,578.6L259.8,577.9L258.9,577.2L258.1,576.4L257.3,575.5L256.6,574.5L256.0,573.3L255.4,572.0L255.0,570.5L254.6,568.8L254.4,567.2L254.4,565.6L254.6,564.0L254.9,562.5L255.3,561.1L255.8,559.8L256.3,558.6L256.9,557.5L257.5,556.7L258.2,556.0L259.0,555.6L259.7,555.5L260.5,555.5L261.3,555.8Z" fill="#ff5218"/>
<path d="M217.6,541.4L218.6,542.0L219.5,542.9L220.2,544.1L220.8,545.7L221.2,547.5L221.6,549.5L221.9,551.7L222.2,554.0L222.5,556.5L222.7,559.0L222.9,561.4L223.1,563.9L223.3,566.3L223.4,568.9L223.6,571.5L223.8,574.1L223.9,576.9L224.1,579.5L224.3,582.1L224.5,584.6L224.7,586.9L224.9,589.9L225.0,593.4L225.2,597.4L225.3,602.1L225.4,606.7L225.5,611.3L225.6,615.9L225.6,620.6L225.7,625.2L225.7,629.8L225.6,634.4L225.6,639.1L225.5,643.5L225.5,647.7L225.4,651.6L225.4,655.4L224.8,658.2L223.6,660.1L221.8,661.0L219.5,661.0L217.7,653.5L216.6,638.4L216.0,615.8L216.0,585.7L216.3,563.2L216.8,548.5Z" fill="#ffaa82"/>
<path d="M217.6,548.9L218.6,549.4L219.5,550.4L220.1,551.8L220.6,553.5L220.8,555.7L221.1,557.9L221.2,560.2L221.4,562.6L221.6,565.1L221.7,567.7L221.9,570.5L222.1,573.4L222.2,576.4L222.4,579.7L222.6,583.2L222.7,586.9L222.9,590.8L223.0,595.3L223.1,600.3L223.2,605.9L223.2,612.1L223.3,619.2L223.3,627.2L223.3,636.2L223.2,646.1L222.8,653.6L221.9,658.5L220.5,661.0L218.7,661.0L217.3,653.9L216.4,639.8L216.0,618.6L216.0,590.4L216.3,569.3L216.8,555.5Z" fill="#ff7a42"/>
<path d="M217.5,558.4L218.5,559.1L219.3,560.1L219.8,561.5L220.2,563.3L220.3,565.5L220.4,567.9L220.6,570.5L220.7,573.4L220.8,576.4L220.9,580.5L221.0,585.5L221.2,591.5L221.2,598.5L221.3,607.0L221.4,617.0L221.4,628.5L221.4,641.5L221.1,651.2L220.4,657.8L219.4,661.0L218.0,661.0L217.0,654.5L216.3,641.6L216.0,622.2L216.0,596.3L216.2,577.1L216.8,564.4Z" fill="#ff5218"/>
<path d="M298.0,536.4L299.1,537.1L300.1,538.0L300.9,539.2L301.6,540.8L302.3,542.6L302.8,544.6L303.3,546.8L303.6,549.1L303.9,551.5L304.2,554.1L304.6,556.7L304.9,559.4L305.1,562.1L305.5,564.8L305.8,567.2L306.1,569.6L306.4,571.7L306.7,573.7L307.0,575.6L307.2,577.2L307.3,578.8L307.5,580.2L307.6,581.6L307.8,582.9L307.9,584.1L308.0,585.6L308.1,587.2L308.1,589.1L308.1,591.1L308.1,593.3L308.0,595.5L307.9,597.9L307.7,600.3L307.5,602.6L307.3,604.8L307.1,606.8L306.8,608.6L306.4,610.2L305.9,611.5L305.4,612.6L304.7,613.3L304.0,613.8L303.3,614.0L302.4,613.8L301.5,613.4L300.6,612.7L299.6,611.9L298.7,610.8L297.8,609.6L296.9,608.3L296.0,607.0L295.1,605.8L294.3,604.5L293.5,603.1L292.7,601.6L292.1,600.1L291.4,598.4L290.8,596.8L290.3,595.1L289.8,593.4L289.2,591.6L288.8,589.8L288.4,587.9L288.1,586.0L287.9,584.0L287.8,582.0L287.8,579.9L288.0,577.8L288.3,575.7L288.6,573.5L288.9,571.2L289.1,568.8L289.3,566.3L289.5,563.8L289.8,561.4L290.2,558.9L290.5,556.5L290.9,554.0L291.4,551.6L291.8,549.1L292.3,546.6L292.7,544.4L293.2,542.5L293.6,540.9L293.9,539.5L294.3,538.4L294.8,537.5L295.2,536.8L295.7,536.2L296.3,536.0L297.1,536.1Z" fill="#ffceb4"/>
<path d="M297.3,552.1L298.0,552.8L298.6,554.0L299.2,555.4L299.7,557.2L300.3,559.4L300.8,561.6L301.2,563.9L301.7,566.3L302.0,568.8L302.4,571.0L302.6,572.9L302.8,574.6L303.0,575.9L303.1,577.4L303.1,578.8L303.1,580.4L302.9,581.9L302.8,583.5L302.7,585.1L302.5,586.6L302.2,588.2L302.0,589.4L301.6,590.3L301.2,591.0L300.8,591.2L300.2,591.3L299.5,591.2L298.7,590.8L297.8,590.2L296.9,589.6L296.1,589.0L295.2,588.4L294.5,587.7L293.7,587.2L293.0,586.7L292.4,586.4L291.7,586.0L291.2,585.4L290.8,584.5L290.6,583.3L290.4,581.7L290.3,580.1L290.3,578.5L290.3,576.8L290.4,575.1L290.5,573.2L290.8,571.1L291.1,568.8L291.5,566.3L291.9,563.9L292.3,561.6L292.8,559.4L293.2,557.2L293.7,555.4L294.3,554.0L294.8,552.8L295.5,552.1L296.1,551.7L296.7,551.7Z" fill="#ffaa82"/>
<polygon points="406.2,661.0 406.2,649.7 433.3,649.2 433.4,642.0 434.4,642.0 434.4,636.0 435.4,636.0 435.4,631.0 436.4,631.0 436.4,628.0 437.5,628.0 437.5,625.3 443.0,625.3 443.0,661.0" fill="#fff"/>
</g>
<g filter="url(#idf)">
<text x="324.0" y="20.2" font-size="21" text-anchor="middle" fill="#4a4a4a" textLength="33.5" lengthAdjust="spacingAndGlyphs" style="stroke-width:0.65px">DJF</text>
<text x="168.7" y="47.3" font-size="14.2" text-anchor="middle" fill="#3c3c3c" textLength="206.0" lengthAdjust="spacing">5a661x1FC5MG2SB (yrs 2&#8722;5)</text>
<text x="490.3" y="47.3" font-size="14.2" text-anchor="middle" fill="#3c3c3c" textLength="196.0" lengthAdjust="spacing">5a661x1FC5MG20 (yrs 2&#8722;5)</text>
<text x="330.2" y="401.7" font-size="14.2" text-anchor="middle" fill="#3c3c3c" textLength="280.0" lengthAdjust="spacing">5a661x1FC5MG2SB &#8722; 5a661x1FC5MG20</text>
<rect x="58.0" y="76.5" width="221.0" height="221.0" fill="none" stroke="#000" stroke-width="1.3"/>
<line x1="52.0" y1="76.5" x2="58.0" y2="76.5" stroke="#000" stroke-width="1.2"/>
<text x="46.8" y="79.8" font-size="9.5" text-anchor="end" fill="#333" class="s">30</text>
<line x1="52.0" y1="108.7" x2="58.0" y2="108.7" stroke="#000" stroke-width="1.2"/>
<text x="46.8" y="112.0" font-size="9.5" text-anchor="end" fill="#333" class="s">50</text>
<line x1="52.0" y1="129.9" x2="58.0" y2="129.9" stroke="#000" stroke-width="1.2"/>
<text x="46.8" y="133.2" font-size="9.5" text-anchor="end" fill="#333" class="s">70</text>
<line x1="52.0" y1="152.4" x2="58.0" y2="152.4" stroke="#000" stroke-width="1.2"/>
<text x="46.8" y="155.7" font-size="9.5" text-anchor="end" fill="#333" class="s">100</text>
<line x1="52.0" y1="177.9" x2="58.0" y2="177.9" stroke="#000" stroke-width="1.2"/>
<text x="46.8" y="181.2" font-size="9.5" text-anchor="end" fill="#333" class="s">150</text>
<line x1="52.0" y1="196.1" x2="58.0" y2="196.1" stroke="#000" stroke-width="1.2"/>
<text x="46.8" y="199.4" font-size="9.5" text-anchor="end" fill="#333" class="s">200</text>
<line x1="52.0" y1="210.1" x2="58.0" y2="210.1" stroke="#000" stroke-width="1.2"/>
<text x="46.8" y="213.4" font-size="9.5" text-anchor="end" fill="#333" class="s">250</text>
<line x1="52.0" y1="221.6" x2="58.0" y2="221.6" stroke="#000" stroke-width="1.2"/>
<text x="46.8" y="224.9" font-size="9.5" text-anchor="end" fill="#333" class="s">300</text>
<line x1="52.0" y1="239.8" x2="58.0" y2="239.8" stroke="#000" stroke-width="1.2"/>
<text x="46.8" y="243.1" font-size="9.5" text-anchor="end" fill="#333" class="s">400</text>
<line x1="52.0" y1="253.8" x2="58.0" y2="253.8" stroke="#000" stroke-width="1.2"/>
<text x="46.8" y="257.1" font-size="9.5" text-anchor="end" fill="#333" class="s">500</text>
<line x1="52.0" y1="275.0" x2="58.0" y2="275.0" stroke="#000" stroke-width="1.2"/>
<text x="46.8" y="278.3" font-size="9.5" text-anchor="end" fill="#333" class="s">700</text>
<line x1="52.0" y1="287.3" x2="58.0" y2="287.3" stroke="#000" stroke-width="1.2"/>
<text x="46.8" y="290.6" font-size="9.5" text-anchor="end" fill="#333" class="s">850</text>
<line x1="52.0" y1="297.5" x2="58.0" y2="297.5" stroke="#000" stroke-width="1.2"/>
<text x="46.8" y="300.8" font-size="9.5" text-anchor="end" fill="#333" class="s">1000</text>
<line x1="279.0" y1="115.5" x2="285.0" y2="115.5" stroke="#000" stroke-width="1.2"/>
<text x="290.3" y="118.8" font-size="9.5" text-anchor="start" fill="#333" class="s">20</text>
<line x1="279.0" y1="155.0" x2="285.0" y2="155.0" stroke="#000" stroke-width="1.2"/>
<text x="290.3" y="158.3" font-size="9.5" text-anchor="start" fill="#333" class="s">16</text>
<line x1="279.0" y1="194.2" x2="285.0" y2="194.2" stroke="#000" stroke-width="1.2"/>
<text x="290.3" y="197.5" font-size="9.5" text-anchor="start" fill="#333" class="s">12</text>
<line x1="279.0" y1="232.7" x2="285.0" y2="232.7" stroke="#000" stroke-width="1.2"/>
<text x="290.3" y="236.0" font-size="9.5" text-anchor="start" fill="#333" class="s">8</text>
<line x1="279.0" y1="267.5" x2="285.0" y2="267.5" stroke="#000" stroke-width="1.2"/>
<text x="290.3" y="270.8" font-size="9.5" text-anchor="start" fill="#333" class="s">4</text>
<line x1="58.0" y1="297.5" x2="58.0" y2="304.0" stroke="#000" stroke-width="1.2"/>
<line x1="58.0" y1="76.5" x2="58.0" y2="70.8" stroke="#000" stroke-width="1.2"/>
<line x1="70.3" y1="297.5" x2="70.3" y2="301.0" stroke="#000" stroke-width="0.9"/>
<line x1="70.3" y1="76.5" x2="70.3" y2="73.8" stroke="#000" stroke-width="0.9"/>
<line x1="82.6" y1="297.5" x2="82.6" y2="301.0" stroke="#000" stroke-width="0.9"/>
<line x1="82.6" y1="76.5" x2="82.6" y2="73.8" stroke="#000" stroke-width="0.9"/>
<line x1="94.8" y1="297.5" x2="94.8" y2="304.0" stroke="#000" stroke-width="1.2"/>
<line x1="94.8" y1="76.5" x2="94.8" y2="70.8" stroke="#000" stroke-width="1.2"/>
<line x1="107.1" y1="297.5" x2="107.1" y2="301.0" stroke="#000" stroke-width="0.9"/>
<line x1="107.1" y1="76.5" x2="107.1" y2="73.8" stroke="#000" stroke-width="0.9"/>
<line x1="119.4" y1="297.5" x2="119.4" y2="301.0" stroke="#000" stroke-width="0.9"/>
<line x1="119.4" y1="76.5" x2="119.4" y2="73.8" stroke="#000" stroke-width="0.9"/>
<line x1="131.7" y1="297.5" x2="131.7" y2="304.0" stroke="#000" stroke-width="1.2"/>
<line x1="131.7" y1="76.5" x2="131.7" y2="70.8" stroke="#000" stroke-width="1.2"/>
<line x1="143.9" y1="297.5" x2="143.9" y2="301.0" stroke="#000" stroke-width="0.9"/>
<line x1="143.9" y1="76.5" x2="143.9" y2="73.8" stroke="#000" stroke-width="0.9"/>
<line x1="156.2" y1="297.5" x2="156.2" y2="301.0" stroke="#000" stroke-width="0.9"/>
<line x1="156.2" y1="76.5" x2="156.2" y2="73.8" stroke="#000" stroke-width="0.9"/>
<line x1="168.5" y1="297.5" x2="168.5" y2="304.0" stroke="#000" stroke-width="1.2"/>
<line x1="168.5" y1="76.5" x2="168.5" y2="70.8" stroke="#000" stroke-width="1.2"/>
<line x1="180.8" y1="297.5" x2="180.8" y2="301.0" stroke="#000" stroke-width="0.9"/>
<line x1="180.8" y1="76.5" x2="180.8" y2="73.8" stroke="#000" stroke-width="0.9"/>
<line x1="193.1" y1="297.5" x2="193.1" y2="301.0" stroke="#000" stroke-width="0.9"/>
<line x1="193.1" y1="76.5" x2="193.1" y2="73.8" stroke="#000" stroke-width="0.9"/>
<line x1="205.3" y1="297.5" x2="205.3" y2="304.0" stroke="#000" stroke-width="1.2"/>
<line x1="205.3" y1="76.5" x2="205.3" y2="70.8" stroke="#000" stroke-width="1.2"/>
<line x1="217.6" y1="297.5" x2="217.6" y2="301.0" stroke="#000" stroke-width="0.9"/>
<line x1="217.6" y1="76.5" x2="217.6" y2="73.8" stroke="#000" stroke-width="0.9"/>
<line x1="229.9" y1="297.5" x2="229.9" y2="301.0" stroke="#000" stroke-width="0.9"/>
<line x1="229.9" y1="76.5" x2="229.9" y2="73.8" stroke="#000" stroke-width="0.9"/>
<line x1="242.2" y1="297.5" x2="242.2" y2="304.0" stroke="#000" stroke-width="1.2"/>
<line x1="242.2" y1="76.5" x2="242.2" y2="70.8" stroke="#000" stroke-width="1.2"/>
<line x1="254.4" y1="297.5" x2="254.4" y2="301.0" stroke="#000" stroke-width="0.9"/>
<line x1="254.4" y1="76.5" x2="254.4" y2="73.8" stroke="#000" stroke-width="0.9"/>
<line x1="266.7" y1="297.5" x2="266.7" y2="301.0" stroke="#000" stroke-width="0.9"/>
<line x1="266.7" y1="76.5" x2="266.7" y2="73.8" stroke="#000" stroke-width="0.9"/>
<line x1="279.0" y1="297.5" x2="279.0" y2="304.0" stroke="#000" stroke-width="1.2"/>
<line x1="279.0" y1="76.5" x2="279.0" y2="70.8" stroke="#000" stroke-width="1.2"/>
<text x="58.0" y="316.1" font-size="9.0" text-anchor="middle" fill="#333" class="s">90N</text>
<text x="94.8" y="316.1" font-size="9.0" text-anchor="middle" fill="#333" class="s">60N</text>
<text x="131.7" y="316.1" font-size="9.0" text-anchor="middle" fill="#333" class="s">30N</text>
<text x="168.5" y="316.1" font-size="9.0" text-anchor="middle" fill="#333" class="s">0</text>
<text x="205.3" y="316.1" font-size="9.0" text-anchor="middle" fill="#333" class="s">30S</text>
<text x="242.2" y="316.1" font-size="9.0" text-anchor="middle" fill="#333" class="s">60S</text>
<text x="279.0" y="316.1" font-size="9.0" text-anchor="middle" fill="#333" class="s">90S</text>
<text transform="translate(17.7,187.0) rotate(-90)" font-size="14.3" text-anchor="middle" fill="#3c3c3c" textLength="101" lengthAdjust="spacing">Pressure (mb)</text>
<text transform="translate(319.6,187.0) rotate(-90)" font-size="14.3" text-anchor="middle" fill="#3c3c3c" textLength="82" lengthAdjust="spacing">Height (km)</text>
<text x="58.0" y="68.0" font-size="12.6" text-anchor="start" fill="#2e2e2e" textLength="114.0" lengthAdjust="spacing" style="stroke-width:0.12px">Transient eddy KE</text>
<text x="280.0" y="68.0" font-size="13" text-anchor="end" fill="#2e2e2e" style="stroke-width:0.12px" textLength="37" lengthAdjust="spacing">m<tspan font-size="10" dy="-4.6">2</tspan><tspan dy="4.6">/s</tspan><tspan font-size="10" dy="-4.6">2</tspan></text>
<rect x="379.7" y="76.5" width="221.0" height="221.0" fill="none" stroke="#000" stroke-width="1.3"/>
<line x1="373.7" y1="76.5" x2="379.7" y2="76.5" stroke="#000" stroke-width="1.2"/>
<text x="368.5" y="79.8" font-size="9.5" text-anchor="end" fill="#333" class="s">30</text>
<line x1="373.7" y1="108.7" x2="379.7" y2="108.7" stroke="#000" stroke-width="1.2"/>
<text x="368.5" y="112.0" font-size="9.5" text-anchor="end" fill="#333" class="s">50</text>
<line x1="373.7" y1="129.9" x2="379.7" y2="129.9" stroke="#000" stroke-width="1.2"/>
<text x="368.5" y="133.2" font-size="9.5" text-anchor="end" fill="#333" class="s">70</text>
<line x1="373.7" y1="152.4" x2="379.7" y2="152.4" stroke="#000" stroke-width="1.2"/>
<text x="368.5" y="155.7" font-size="9.5" text-anchor="end" fill="#333" class="s">100</text>
<line x1="373.7" y1="177.9" x2="379.7" y2="177.9" stroke="#000" stroke-width="1.2"/>
<text x="368.5" y="181.2" font-size="9.5" text-anchor="end" fill="#333" class="s">150</text>
<line x1="373.7" y1="196.1" x2="379.7" y2="196.1" stroke="#000" stroke-width="1.2"/>
<text x="368.5" y="199.4" font-size="9.5" text-anchor="end" fill="#333" class="s">200</text>
<line x1="373.7" y1="210.1" x2="379.7" y2="210.1" stroke="#000" stroke-width="1.2"/>
<text x="368.5" y="213.4" font-size="9.5" text-anchor="end" fill="#333" class="s">250</text>
<line x1="373.7" y1="221.6" x2="379.7" y2="221.6" stroke="#000" stroke-width="1.2"/>
<text x="368.5" y="224.9" font-size="9.5" text-anchor="end" fill="#333" class="s">300</text>
<line x1="373.7" y1="239.8" x2="379.7" y2="239.8" stroke="#000" stroke-width="1.2"/>
<text x="368.5" y="243.1" font-size="9.5" text-anchor="end" fill="#333" class="s">400</text>
<line x1="373.7" y1="253.8" x2="379.7" y2="253.8" stroke="#000" stroke-width="1.2"/>
<text x="368.5" y="257.1" font-size="9.5" text-anchor="end" fill="#333" class="s">500</text>
<line x1="373.7" y1="275.0" x2="379.7" y2="275.0" stroke="#000" stroke-width="1.2"/>
<text x="368.5" y="278.3" font-size="9.5" text-anchor="end" fill="#333" class="s">700</text>
<line x1="373.7" y1="287.3" x2="379.7" y2="287.3" stroke="#000" stroke-width="1.2"/>
<text x="368.5" y="290.6" font-size="9.5" text-anchor="end" fill="#333" class="s">850</text>
<line x1="373.7" y1="297.5" x2="379.7" y2="297.5" stroke="#000" stroke-width="1.2"/>
<text x="368.5" y="300.8" font-size="9.5" text-anchor="end" fill="#333" class="s">1000</text>
<line x1="600.7" y1="115.5" x2="606.7" y2="115.5" stroke="#000" stroke-width="1.2"/>
<text x="612.0" y="118.8" font-size="9.5" text-anchor="start" fill="#333" class="s">20</text>
<line x1="600.7" y1="155.0" x2="606.7" y2="155.0" stroke="#000" stroke-width="1.2"/>
<text x="612.0" y="158.3" font-size="9.5" text-anchor="start" fill="#333" class="s">16</text>
<line x1="600.7" y1="194.2" x2="606.7" y2="194.2" stroke="#000" stroke-width="1.2"/>
<text x="612.0" y="197.5" font-size="9.5" text-anchor="start" fill="#333" class="s">12</text>
<line x1="600.7" y1="232.7" x2="606.7" y2="232.7" stroke="#000" stroke-width="1.2"/>
<text x="612.0" y="236.0" font-size="9.5" text-anchor="start" fill="#333" class="s">8</text>
<line x1="600.7" y1="267.5" x2="606.7" y2="267.5" stroke="#000" stroke-width="1.2"/>
<text x="612.0" y="270.8" font-size="9.5" text-anchor="start" fill="#333" class="s">4</text>
<line x1="379.7" y1="297.5" x2="379.7" y2="304.0" stroke="#000" stroke-width="1.2"/>
<line x1="379.7" y1="76.5" x2="379.7" y2="70.8" stroke="#000" stroke-width="1.2"/>
<line x1="392.0" y1="297.5" x2="392.0" y2="301.0" stroke="#000" stroke-width="0.9"/>
<line x1="392.0" y1="76.5" x2="392.0" y2="73.8" stroke="#000" stroke-width="0.9"/>
<line x1="404.3" y1="297.5" x2="404.3" y2="301.0" stroke="#000" stroke-width="0.9"/>
<line x1="404.3" y1="76.5" x2="404.3" y2="73.8" stroke="#000" stroke-width="0.9"/>
<line x1="416.5" y1="297.5" x2="416.5" y2="304.0" stroke="#000" stroke-width="1.2"/>
<line x1="416.5" y1="76.5" x2="416.5" y2="70.8" stroke="#000" stroke-width="1.2"/>
<line x1="428.8" y1="297.5" x2="428.8" y2="301.0" stroke="#000" stroke-width="0.9"/>
<line x1="428.8" y1="76.5" x2="428.8" y2="73.8" stroke="#000" stroke-width="0.9"/>
<line x1="441.1" y1="297.5" x2="441.1" y2="301.0" stroke="#000" stroke-width="0.9"/>
<line x1="441.1" y1="76.5" x2="441.1" y2="73.8" stroke="#000" stroke-width="0.9"/>
<line x1="453.4" y1="297.5" x2="453.4" y2="304.0" stroke="#000" stroke-width="1.2"/>
<line x1="453.4" y1="76.5" x2="453.4" y2="70.8" stroke="#000" stroke-width="1.2"/>
<line x1="465.6" y1="297.5" x2="465.6" y2="301.0" stroke="#000" stroke-width="0.9"/>
<line x1="465.6" y1="76.5" x2="465.6" y2="73.8" stroke="#000" stroke-width="0.9"/>
<line x1="477.9" y1="297.5" x2="477.9" y2="301.0" stroke="#000" stroke-width="0.9"/>
<line x1="477.9" y1="76.5" x2="477.9" y2="73.8" stroke="#000" stroke-width="0.9"/>
<line x1="490.2" y1="297.5" x2="490.2" y2="304.0" stroke="#000" stroke-width="1.2"/>
<line x1="490.2" y1="76.5" x2="490.2" y2="70.8" stroke="#000" stroke-width="1.2"/>
<line x1="502.5" y1="297.5" x2="502.5" y2="301.0" stroke="#000" stroke-width="0.9"/>
<line x1="502.5" y1="76.5" x2="502.5" y2="73.8" stroke="#000" stroke-width="0.9"/>
<line x1="514.8" y1="297.5" x2="514.8" y2="301.0" stroke="#000" stroke-width="0.9"/>
<line x1="514.8" y1="76.5" x2="514.8" y2="73.8" stroke="#000" stroke-width="0.9"/>
<line x1="527.0" y1="297.5" x2="527.0" y2="304.0" stroke="#000" stroke-width="1.2"/>
<line x1="527.0" y1="76.5" x2="527.0" y2="70.8" stroke="#000" stroke-width="1.2"/>
<line x1="539.3" y1="297.5" x2="539.3" y2="301.0" stroke="#000" stroke-width="0.9"/>
<line x1="539.3" y1="76.5" x2="539.3" y2="73.8" stroke="#000" stroke-width="0.9"/>
<line x1="551.6" y1="297.5" x2="551.6" y2="301.0" stroke="#000" stroke-width="0.9"/>
<line x1="551.6" y1="76.5" x2="551.6" y2="73.8" stroke="#000" stroke-width="0.9"/>
<line x1="563.9" y1="297.5" x2="563.9" y2="304.0" stroke="#000" stroke-width="1.2"/>
<line x1="563.9" y1="76.5" x2="563.9" y2="70.8" stroke="#000" stroke-width="1.2"/>
<line x1="576.1" y1="297.5" x2="576.1" y2="301.0" stroke="#000" stroke-width="0.9"/>
<line x1="576.1" y1="76.5" x2="576.1" y2="73.8" stroke="#000" stroke-width="0.9"/>
<line x1="588.4" y1="297.5" x2="588.4" y2="301.0" stroke="#000" stroke-width="0.9"/>
<line x1="588.4" y1="76.5" x2="588.4" y2="73.8" stroke="#000" stroke-width="0.9"/>
<line x1="600.7" y1="297.5" x2="600.7" y2="304.0" stroke="#000" stroke-width="1.2"/>
<line x1="600.7" y1="76.5" x2="600.7" y2="70.8" stroke="#000" stroke-width="1.2"/>
<text x="379.7" y="316.1" font-size="9.0" text-anchor="middle" fill="#333" class="s">90N</text>
<text x="416.5" y="316.1" font-size="9.0" text-anchor="middle" fill="#333" class="s">60N</text>
<text x="453.4" y="316.1" font-size="9.0" text-anchor="middle" fill="#333" class="s">30N</text>
<text x="490.2" y="316.1" font-size="9.0" text-anchor="middle" fill="#333" class="s">0</text>
<text x="527.0" y="316.1" font-size="9.0" text-anchor="middle" fill="#333" class="s">30S</text>
<text x="563.9" y="316.1" font-size="9.0" text-anchor="middle" fill="#333" class="s">60S</text>
<text x="600.7" y="316.1" font-size="9.0" text-anchor="middle" fill="#333" class="s">90S</text>
<text transform="translate(339.4,187.0) rotate(-90)" font-size="14.3" text-anchor="middle" fill="#3c3c3c" textLength="101" lengthAdjust="spacing">Pressure (mb)</text>
<text transform="translate(641.3,187.0) rotate(-90)" font-size="14.3" text-anchor="middle" fill="#3c3c3c" textLength="82" lengthAdjust="spacing">Height (km)</text>
<text x="379.7" y="68.0" font-size="12.6" text-anchor="start" fill="#2e2e2e" textLength="114.0" lengthAdjust="spacing" style="stroke-width:0.12px">Transient eddy KE</text>
<text x="601.7" y="68.0" font-size="13" text-anchor="end" fill="#2e2e2e" style="stroke-width:0.12px" textLength="37" lengthAdjust="spacing">m<tspan font-size="10" dy="-4.6">2</tspan><tspan dy="4.6">/s</tspan><tspan font-size="10" dy="-4.6">2</tspan></text>
<rect x="219.0" y="431.0" width="221.0" height="221.0" fill="none" stroke="#000" stroke-width="1.3"/>
<line x1="213.0" y1="431.0" x2="219.0" y2="431.0" stroke="#000" stroke-width="1.2"/>
<text x="207.8" y="434.3" font-size="9.5" text-anchor="end" fill="#333" class="s">30</text>
<line x1="213.0" y1="463.2" x2="219.0" y2="463.2" stroke="#000" stroke-width="1.2"/>
<text x="207.8" y="466.5" font-size="9.5" text-anchor="end" fill="#333" class="s">50</text>
<line x1="213.0" y1="484.4" x2="219.0" y2="484.4" stroke="#000" stroke-width="1.2"/>
<text x="207.8" y="487.7" font-size="9.5" text-anchor="end" fill="#333" class="s">70</text>
<line x1="213.0" y1="506.9" x2="219.0" y2="506.9" stroke="#000" stroke-width="1.2"/>
<text x="207.8" y="510.2" font-size="9.5" text-anchor="end" fill="#333" class="s">100</text>
<line x1="213.0" y1="532.4" x2="219.0" y2="532.4" stroke="#000" stroke-width="1.2"/>
<text x="207.8" y="535.7" font-size="9.5" text-anchor="end" fill="#333" class="s">150</text>
<line x1="213.0" y1="550.6" x2="219.0" y2="550.6" stroke="#000" stroke-width="1.2"/>
<text x="207.8" y="553.9" font-size="9.5" text-anchor="end" fill="#333" class="s">200</text>
<line x1="213.0" y1="564.6" x2="219.0" y2="564.6" stroke="#000" stroke-width="1.2"/>
<text x="207.8" y="567.9" font-size="9.5" text-anchor="end" fill="#333" class="s">250</text>
<line x1="213.0" y1="576.1" x2="219.0" y2="576.1" stroke="#000" stroke-width="1.2"/>
<text x="207.8" y="579.4" font-size="9.5" text-anchor="end" fill="#333" class="s">300</text>
<line x1="213.0" y1="594.3" x2="219.0" y2="594.3" stroke="#000" stroke-width="1.2"/>
<text x="207.8" y="597.6" font-size="9.5" text-anchor="end" fill="#333" class="s">400</text>
<line x1="213.0" y1="608.3" x2="219.0" y2="608.3" stroke="#000" stroke-width="1.2"/>
<text x="207.8" y="611.6" font-size="9.5" text-anchor="end" fill="#333" class="s">500</text>
<line x1="213.0" y1="629.5" x2="219.0" y2="629.5" stroke="#000" stroke-width="1.2"/>
<text x="207.8" y="632.8" font-size="9.5" text-anchor="end" fill="#333" class="s">700</text>
<line x1="213.0" y1="641.8" x2="219.0" y2="641.8" stroke="#000" stroke-width="1.2"/>
<text x="207.8" y="645.1" font-size="9.5" text-anchor="end" fill="#333" class="s">850</text>
<line x1="213.0" y1="652.0" x2="219.0" y2="652.0" stroke="#000" stroke-width="1.2"/>
<text x="207.8" y="655.3" font-size="9.5" text-anchor="end" fill="#333" class="s">1000</text>
<line x1="440.0" y1="470.0" x2="446.0" y2="470.0" stroke="#000" stroke-width="1.2"/>
<text x="451.3" y="473.3" font-size="9.5" text-anchor="start" fill="#333" class="s">20</text>
<line x1="440.0" y1="509.5" x2="446.0" y2="509.5" stroke="#000" stroke-width="1.2"/>
<text x="451.3" y="512.8" font-size="9.5" text-anchor="start" fill="#333" class="s">16</text>
<line x1="440.0" y1="548.7" x2="446.0" y2="548.7" stroke="#000" stroke-width="1.2"/>
<text x="451.3" y="552.0" font-size="9.5" text-anchor="start" fill="#333" class="s">12</text>
<line x1="440.0" y1="587.2" x2="446.0" y2="587.2" stroke="#000" stroke-width="1.2"/>
<text x="451.3" y="590.5" font-size="9.5" text-anchor="start" fill="#333" class="s">8</text>
<line x1="440.0" y1="622.0" x2="446.0" y2="622.0" stroke="#000" stroke-width="1.2"/>
<text x="451.3" y="625.3" font-size="9.5" text-anchor="start" fill="#333" class="s">4</text>
<line x1="219.0" y1="652.0" x2="219.0" y2="658.5" stroke="#000" stroke-width="1.2"/>
<line x1="219.0" y1="431.0" x2="219.0" y2="425.3" stroke="#000" stroke-width="1.2"/>
<line x1="231.3" y1="652.0" x2="231.3" y2="655.5" stroke="#000" stroke-width="0.9"/>
<line x1="231.3" y1="431.0" x2="231.3" y2="428.3" stroke="#000" stroke-width="0.9"/>
<line x1="243.6" y1="652.0" x2="243.6" y2="655.5" stroke="#000" stroke-width="0.9"/>
<line x1="243.6" y1="431.0" x2="243.6" y2="428.3" stroke="#000" stroke-width="0.9"/>
<line x1="255.8" y1="652.0" x2="255.8" y2="658.5" stroke="#000" stroke-width="1.2"/>
<line x1="255.8" y1="431.0" x2="255.8" y2="425.3" stroke="#000" stroke-width="1.2"/>
<line x1="268.1" y1="652.0" x2="268.1" y2="655.5" stroke="#000" stroke-width="0.9"/>
<line x1="268.1" y1="431.0" x2="268.1" y2="428.3" stroke="#000" stroke-width="0.9"/>
<line x1="280.4" y1="652.0" x2="280.4" y2="655.5" stroke="#000" stroke-width="0.9"/>
<line x1="280.4" y1="431.0" x2="280.4" y2="428.3" stroke="#000" stroke-width="0.9"/>
<line x1="292.7" y1="652.0" x2="292.7" y2="658.5" stroke="#000" stroke-width="1.2"/>
<line x1="292.7" y1="431.0" x2="292.7" y2="425.3" stroke="#000" stroke-width="1.2"/>
<line x1="304.9" y1="652.0" x2="304.9" y2="655.5" stroke="#000" stroke-width="0.9"/>
<line x1="304.9" y1="431.0" x2="304.9" y2="428.3" stroke="#000" stroke-width="0.9"/>
<line x1="317.2" y1="652.0" x2="317.2" y2="655.5" stroke="#000" stroke-width="0.9"/>
<line x1="317.2" y1="431.0" x2="317.2" y2="428.3" stroke="#000" stroke-width="0.9"/>
<line x1="329.5" y1="652.0" x2="329.5" y2="658.5" stroke="#000" stroke-width="1.2"/>
<line x1="329.5" y1="431.0" x2="329.5" y2="425.3" stroke="#000" stroke-width="1.2"/>
<line x1="341.8" y1="652.0" x2="341.8" y2="655.5" stroke="#000" stroke-width="0.9"/>
<line x1="341.8" y1="431.0" x2="341.8" y2="428.3" stroke="#000" stroke-width="0.9"/>
<line x1="354.1" y1="652.0" x2="354.1" y2="655.5" stroke="#000" stroke-width="0.9"/>
<line x1="354.1" y1="431.0" x2="354.1" y2="428.3" stroke="#000" stroke-width="0.9"/>
<line x1="366.3" y1="652.0" x2="366.3" y2="658.5" stroke="#000" stroke-width="1.2"/>
<line x1="366.3" y1="431.0" x2="366.3" y2="425.3" stroke="#000" stroke-width="1.2"/>
<line x1="378.6" y1="652.0" x2="378.6" y2="655.5" stroke="#000" stroke-width="0.9"/>
<line x1="378.6" y1="431.0" x2="378.6" y2="428.3" stroke="#000" stroke-width="0.9"/>
<line x1="390.9" y1="652.0" x2="390.9" y2="655.5" stroke="#000" stroke-width="0.9"/>
<line x1="390.9" y1="431.0" x2="390.9" y2="428.3" stroke="#000" stroke-width="0.9"/>
<line x1="403.2" y1="652.0" x2="403.2" y2="658.5" stroke="#000" stroke-width="1.2"/>
<line x1="403.2" y1="431.0" x2="403.2" y2="425.3" stroke="#000" stroke-width="1.2"/>
<line x1="415.4" y1="652.0" x2="415.4" y2="655.5" stroke="#000" stroke-width="0.9"/>
<line x1="415.4" y1="431.0" x2="415.4" y2="428.3" stroke="#000" stroke-width="0.9"/>
<line x1="427.7" y1="652.0" x2="427.7" y2="655.5" stroke="#000" stroke-width="0.9"/>
<line x1="427.7" y1="431.0" x2="427.7" y2="428.3" stroke="#000" stroke-width="0.9"/>
<line x1="440.0" y1="652.0" x2="440.0" y2="658.5" stroke="#000" stroke-width="1.2"/>
<line x1="440.0" y1="431.0" x2="440.0" y2="425.3" stroke="#000" stroke-width="1.2"/>
<text x="219.0" y="670.6" font-size="9.0" text-anchor="middle" fill="#333" class="s">90N</text>
<text x="255.8" y="670.6" font-size="9.0" text-anchor="middle" fill="#333" class="s">60N</text>
<text x="292.7" y="670.6" font-size="9.0" text-anchor="middle" fill="#333" class="s">30N</text>
<text x="329.5" y="670.6" font-size="9.0" text-anchor="middle" fill="#333" class="s">0</text>
<text x="366.3" y="670.6" font-size="9.0" text-anchor="middle" fill="#333" class="s">30S</text>
<text x="403.2" y="670.6" font-size="9.0" text-anchor="middle" fill="#333" class="s">60S</text>
<text x="440.0" y="670.6" font-size="9.0" text-anchor="middle" fill="#333" class="s">90S</text>
<text transform="translate(178.7,541.5) rotate(-90)" font-size="14.3" text-anchor="middle" fill="#3c3c3c" textLength="101" lengthAdjust="spacing">Pressure (mb)</text>
<text transform="translate(480.6,541.5) rotate(-90)" font-size="14.3" text-anchor="middle" fill="#3c3c3c" textLength="82" lengthAdjust="spacing">Height (km)</text>
<text x="219.0" y="422.5" font-size="12.6" text-anchor="start" fill="#2e2e2e" textLength="114.0" lengthAdjust="spacing" style="stroke-width:0.12px">Transient eddy KE</text>
<text x="441.0" y="422.5" font-size="13" text-anchor="end" fill="#2e2e2e" style="stroke-width:0.12px" textLength="37" lengthAdjust="spacing">m<tspan font-size="10" dy="-4.6">2</tspan><tspan dy="4.6">/s</tspan><tspan font-size="10" dy="-4.6">2</tspan></text>
<rect x="61.10" y="338.3" width="13.43" height="20.0" fill="#00008b" stroke="#000" stroke-width="0.7"/>
<rect x="74.53" y="338.3" width="13.43" height="20.0" fill="#001eb9" stroke="#000" stroke-width="0.7"/>
<rect x="87.95" y="338.3" width="13.43" height="20.0" fill="#0034dc" stroke="#000" stroke-width="0.7"/>
<rect x="101.38" y="338.3" width="13.43" height="20.0" fill="#1e50ff" stroke="#000" stroke-width="0.7"/>
<rect x="114.80" y="338.3" width="13.43" height="20.0" fill="#4678fa" stroke="#000" stroke-width="0.7"/>
<rect x="128.22" y="338.3" width="13.43" height="20.0" fill="#82a5ff" stroke="#000" stroke-width="0.7"/>
<rect x="141.65" y="338.3" width="13.43" height="20.0" fill="#afc8ff" stroke="#000" stroke-width="0.7"/>
<rect x="155.08" y="338.3" width="13.43" height="20.0" fill="#d7ebff" stroke="#000" stroke-width="0.7"/>
<rect x="168.50" y="338.3" width="13.43" height="20.0" fill="#ffebd7" stroke="#000" stroke-width="0.7"/>
<rect x="181.93" y="338.3" width="13.43" height="20.0" fill="#ffceb4" stroke="#000" stroke-width="0.7"/>
<rect x="195.35" y="338.3" width="13.43" height="20.0" fill="#ffaa82" stroke="#000" stroke-width="0.7"/>
<rect x="208.78" y="338.3" width="13.43" height="20.0" fill="#ff7a42" stroke="#000" stroke-width="0.7"/>
<rect x="222.20" y="338.3" width="13.43" height="20.0" fill="#ff5218" stroke="#000" stroke-width="0.7"/>
<rect x="235.62" y="338.3" width="13.43" height="20.0" fill="#e63200" stroke="#000" stroke-width="0.7"/>
<rect x="249.05" y="338.3" width="13.43" height="20.0" fill="#b92000" stroke="#000" stroke-width="0.7"/>
<rect x="262.48" y="338.3" width="13.43" height="20.0" fill="#8b0000" stroke="#000" stroke-width="0.7"/>
<text x="74.5" y="371.5" font-size="10.4" text-anchor="middle" fill="#333" class="s">10</text>
<text x="101.4" y="371.5" font-size="10.4" text-anchor="middle" fill="#333" class="s">50</text>
<text x="128.2" y="371.5" font-size="10.4" text-anchor="middle" fill="#333" class="s">90</text>
<text x="155.1" y="371.5" font-size="10.4" text-anchor="middle" fill="#333" class="s">130</text>
<text x="181.9" y="371.5" font-size="10.4" text-anchor="middle" fill="#333" class="s">170</text>
<text x="208.8" y="371.5" font-size="10.4" text-anchor="middle" fill="#333" class="s">210</text>
<text x="235.6" y="371.5" font-size="10.4" text-anchor="middle" fill="#333" class="s">250</text>
<text x="262.5" y="371.5" font-size="10.4" text-anchor="middle" fill="#333" class="s">290</text>
<rect x="382.80" y="338.3" width="13.43" height="20.0" fill="#00008b" stroke="#000" stroke-width="0.7"/>
<rect x="396.23" y="338.3" width="13.43" height="20.0" fill="#001eb9" stroke="#000" stroke-width="0.7"/>
<rect x="409.65" y="338.3" width="13.43" height="20.0" fill="#0034dc" stroke="#000" stroke-width="0.7"/>
<rect x="423.08" y="338.3" width="13.43" height="20.0" fill="#1e50ff" stroke="#000" stroke-width="0.7"/>
<rect x="436.50" y="338.3" width="13.43" height="20.0" fill="#4678fa" stroke="#000" stroke-width="0.7"/>
<rect x="449.93" y="338.3" width="13.43" height="20.0" fill="#82a5ff" stroke="#000" stroke-width="0.7"/>
<rect x="463.35" y="338.3" width="13.43" height="20.0" fill="#afc8ff" stroke="#000" stroke-width="0.7"/>
<rect x="476.78" y="338.3" width="13.43" height="20.0" fill="#d7ebff" stroke="#000" stroke-width="0.7"/>
<rect x="490.20" y="338.3" width="13.43" height="20.0" fill="#ffebd7" stroke="#000" stroke-width="0.7"/>
<rect x="503.62" y="338.3" width="13.43" height="20.0" fill="#ffceb4" stroke="#000" stroke-width="0.7"/>
<rect x="517.05" y="338.3" width="13.43" height="20.0" fill="#ffaa82" stroke="#000" stroke-width="0.7"/>
<rect x="530.48" y="338.3" width="13.43" height="20.0" fill="#ff7a42" stroke="#000" stroke-width="0.7"/>
<rect x="543.90" y="338.3" width="13.43" height="20.0" fill="#ff5218" stroke="#000" stroke-width="0.7"/>
<rect x="557.33" y="338.3" width="13.43" height="20.0" fill="#e63200" stroke="#000" stroke-width="0.7"/>
<rect x="570.75" y="338.3" width="13.43" height="20.0" fill="#b92000" stroke="#000" stroke-width="0.7"/>
<rect x="584.17" y="338.3" width="13.43" height="20.0" fill="#8b0000" stroke="#000" stroke-width="0.7"/>
<text x="396.2" y="371.5" font-size="10.4" text-anchor="middle" fill="#333" class="s">10</text>
<text x="423.1" y="371.5" font-size="10.4" text-anchor="middle" fill="#333" class="s">50</text>
<text x="449.9" y="371.5" font-size="10.4" text-anchor="middle" fill="#333" class="s">90</text>
<text x="476.8" y="371.5" font-size="10.4" text-anchor="middle" fill="#333" class="s">130</text>
<text x="503.6" y="371.5" font-size="10.4" text-anchor="middle" fill="#333" class="s">170</text>
<text x="530.5" y="371.5" font-size="10.4" text-anchor="middle" fill="#333" class="s">210</text>
<text x="557.3" y="371.5" font-size="10.4" text-anchor="middle" fill="#333" class="s">250</text>
<text x="584.2" y="371.5" font-size="10.4" text-anchor="middle" fill="#333" class="s">290</text>
<rect x="527.4" y="639.55" width="30.8" height="11.15" fill="#00008b" stroke="#000" stroke-width="0.7"/>
<rect x="527.4" y="628.40" width="30.8" height="11.15" fill="#001eb9" stroke="#000" stroke-width="0.7"/>
<rect x="527.4" y="617.25" width="30.8" height="11.15" fill="#0034dc" stroke="#000" stroke-width="0.7"/>
<rect x="527.4" y="606.10" width="30.8" height="11.15" fill="#1e50ff" stroke="#000" stroke-width="0.7"/>
<rect x="527.4" y="594.95" width="30.8" height="11.15" fill="#4678fa" stroke="#000" stroke-width="0.7"/>
<rect x="527.4" y="583.80" width="30.8" height="11.15" fill="#82a5ff" stroke="#000" stroke-width="0.7"/>
<rect x="527.4" y="572.65" width="30.8" height="11.15" fill="#afc8ff" stroke="#000" stroke-width="0.7"/>
<rect x="527.4" y="561.50" width="30.8" height="11.15" fill="#d7ebff" stroke="#000" stroke-width="0.7"/>
<rect x="527.4" y="550.35" width="30.8" height="11.15" fill="#ffebd7" stroke="#000" stroke-width="0.7"/>
<rect x="527.4" y="539.20" width="30.8" height="11.15" fill="#ffceb4" stroke="#000" stroke-width="0.7"/>
<rect x="527.4" y="528.05" width="30.8" height="11.15" fill="#ffaa82" stroke="#000" stroke-width="0.7"/>
<rect x="527.4" y="516.90" width="30.8" height="11.15" fill="#ff7a42" stroke="#000" stroke-width="0.7"/>
<rect x="527.4" y="505.75" width="30.8" height="11.15" fill="#ff5218" stroke="#000" stroke-width="0.7"/>
<rect x="527.4" y="494.60" width="30.8" height="11.15" fill="#e63200" stroke="#000" stroke-width="0.7"/>
<rect x="527.4" y="483.45" width="30.8" height="11.15" fill="#b92000" stroke="#000" stroke-width="0.7"/>
<rect x="527.4" y="472.30" width="30.8" height="11.15" fill="#8b0000" stroke="#000" stroke-width="0.7"/>
<text x="571.5" y="643.4" font-size="10.4" text-anchor="middle" fill="#333" class="s">&#8722;50</text>
<text x="571.5" y="632.2" font-size="10.4" text-anchor="middle" fill="#333" class="s">&#8722;40</text>
<text x="571.5" y="621.0" font-size="10.4" text-anchor="middle" fill="#333" class="s">&#8722;30</text>
<text x="571.5" y="609.9" font-size="10.4" text-anchor="middle" fill="#333" class="s">&#8722;20</text>
<text x="571.5" y="598.8" font-size="10.4" text-anchor="middle" fill="#333" class="s">&#8722;15</text>
<text x="571.5" y="587.6" font-size="10.4" text-anchor="middle" fill="#333" class="s">&#8722;10</text>
<text x="571.5" y="576.5" font-size="10.4" text-anchor="middle" fill="#333" class="s">&#8722;5</text>
<text x="571.5" y="565.3" font-size="10.4" text-anchor="middle" fill="#333" class="s">0</text>
<text x="571.5" y="554.1" font-size="10.4" text-anchor="middle" fill="#333" class="s">5</text>
<text x="571.5" y="543.0" font-size="10.4" text-anchor="middle" fill="#333" class="s">10</text>
<text x="571.5" y="531.9" font-size="10.4" text-anchor="middle" fill="#333" class="s">15</text>
<text x="571.5" y="520.7" font-size="10.4" text-anchor="middle" fill="#333" class="s">20</text>
<text x="571.5" y="509.6" font-size="10.4" text-anchor="middle" fill="#333" class="s">30</text>
<text x="571.5" y="498.4" font-size="10.4" text-anchor="middle" fill="#333" class="s">40</text>
<text x="571.5" y="487.3" font-size="10.4" text-anchor="middle" fill="#333" class="s">50</text>
<text x="85.9" y="327.6" font-size="10.6" text-anchor="start" fill="#3c3c3c" textLength="17.0" lengthAdjust="spacingAndGlyphs" class="s">MIN</text>
<text x="109.2" y="327.6" font-size="10.6" text-anchor="start" fill="#3c3c3c" textLength="8.5" lengthAdjust="spacing" class="s">=</text>
<text x="136.2" y="327.6" font-size="10.6" text-anchor="start" fill="#3c3c3c" textLength="22.9" lengthAdjust="spacing" class="s">4.39</text>
<text x="172.0" y="327.6" font-size="10.6" text-anchor="start" fill="#3c3c3c" textLength="19.6" lengthAdjust="spacingAndGlyphs" class="s">MAX</text>
<text x="199.8" y="327.6" font-size="10.6" text-anchor="start" fill="#3c3c3c" textLength="8.1" lengthAdjust="spacing" class="s">=</text>
<text x="213.5" y="327.6" font-size="10.6" text-anchor="start" fill="#3c3c3c" textLength="38.1" lengthAdjust="spacing" class="s">448.23</text>
<text x="407.6" y="327.6" font-size="10.6" text-anchor="start" fill="#3c3c3c" textLength="17.0" lengthAdjust="spacingAndGlyphs" class="s">MIN</text>
<text x="430.9" y="327.6" font-size="10.6" text-anchor="start" fill="#3c3c3c" textLength="8.5" lengthAdjust="spacing" class="s">=</text>
<text x="457.9" y="327.6" font-size="10.6" text-anchor="start" fill="#3c3c3c" textLength="22.9" lengthAdjust="spacing" class="s">4.60</text>
<text x="493.7" y="327.6" font-size="10.6" text-anchor="start" fill="#3c3c3c" textLength="19.6" lengthAdjust="spacingAndGlyphs" class="s">MAX</text>
<text x="521.5" y="327.6" font-size="10.6" text-anchor="start" fill="#3c3c3c" textLength="8.1" lengthAdjust="spacing" class="s">=</text>
<text x="535.2" y="327.6" font-size="10.6" text-anchor="start" fill="#3c3c3c" textLength="38.1" lengthAdjust="spacing" class="s">512.93</text>
<text x="470.2" y="454.0" font-size="10.6" text-anchor="start" fill="#3c3c3c" textLength="17.2" lengthAdjust="spacingAndGlyphs" class="s">MIN</text>
<text x="493.9" y="454.0" font-size="10.6" text-anchor="start" fill="#3c3c3c" textLength="7.5" lengthAdjust="spacing" class="s">=</text>
<text x="508.6" y="454.0" font-size="10.6" text-anchor="start" fill="#3c3c3c" textLength="39.0" lengthAdjust="spacing" class="s">&#8722;65.85</text>
<text x="560.7" y="454.0" font-size="10.6" text-anchor="start" fill="#3c3c3c" textLength="17.2" lengthAdjust="spacingAndGlyphs" class="s">MAX</text>
<text x="588.3" y="454.0" font-size="10.6" text-anchor="start" fill="#3c3c3c" textLength="7.2" lengthAdjust="spacing" class="s">=</text>
<text x="608.5" y="454.0" font-size="10.6" text-anchor="start" fill="#3c3c3c" textLength="29.6" lengthAdjust="spacing" class="s">29.15</text>
</g>
</svg>
</body></html>
